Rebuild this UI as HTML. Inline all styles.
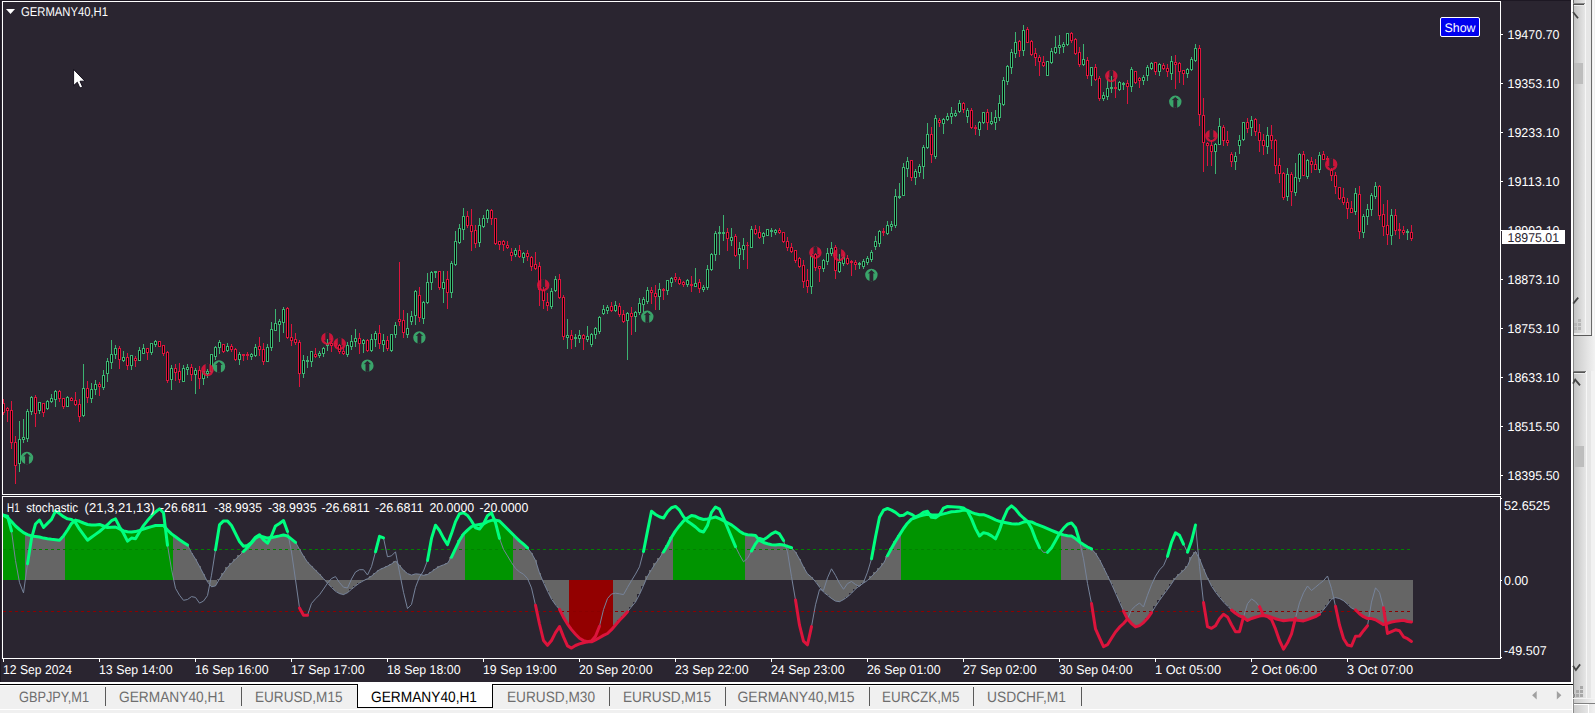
<!DOCTYPE html>
<html><head><meta charset="utf-8"><title>GERMANY40,H1</title>
<style>html,body{margin:0;padding:0;background:#f0f0f0;overflow:hidden}svg{display:block;font-family:"Liberation Sans",sans-serif}text{font-family:"Liberation Sans",sans-serif;white-space:pre}</style>
</head><body>
<svg width="1595" height="713" viewBox="0 0 1595 713" shape-rendering="crispEdges">
<defs><linearGradient id="sb" x1="0" x2="1" y1="0" y2="0"><stop offset="0" stop-color="#c4c4c4"/><stop offset="1" stop-color="#e6e6e6"/></linearGradient><linearGradient id="sb2" x1="0" x2="1" y1="0" y2="0"><stop offset="0" stop-color="#cacaca"/><stop offset="1" stop-color="#f2f2f2"/></linearGradient><clipPath id="cm"><rect x="3" y="2" width="1497" height="492"/></clipPath><clipPath id="cs"><rect x="3" y="497" width="1497" height="161"/></clipPath></defs>
<rect x="0" y="0" width="1595" height="713" fill="#f0f0f0" />
<rect x="0" y="0" width="1571" height="682" fill="#2a2530" />
<rect x="0" y="0" width="1571" height="1" fill="#1d1823" />
<rect x="0" y="0" width="1" height="682" fill="#1d1823" />
<g id="main" clip-path="url(#cm)">
<rect x="3" y="399" width="1" height="16" fill="#dc143c"/>
<rect x="2" y="403" width="3" height="10" fill="#dc143c"/>
<rect x="3" y="404" width="1" height="8" fill="#000"/>
<rect x="7" y="407" width="1" height="15" fill="#dc143c"/>
<rect x="6" y="408" width="3" height="3" fill="#dc143c"/>
<rect x="7" y="409" width="1" height="1" fill="#000"/>
<rect x="11" y="401" width="1" height="48" fill="#dc143c"/>
<rect x="10" y="410" width="3" height="33" fill="#dc143c"/>
<rect x="11" y="411" width="1" height="31" fill="#000"/>
<rect x="15" y="436" width="1" height="48" fill="#dc143c"/>
<rect x="14" y="442" width="3" height="24" fill="#dc143c"/>
<rect x="15" y="443" width="1" height="22" fill="#000"/>
<rect x="19" y="421" width="1" height="51" fill="#3cb371"/>
<rect x="18" y="439" width="3" height="25" fill="#3cb371"/>
<rect x="19" y="440" width="1" height="23" fill="#000"/>
<rect x="23" y="419" width="1" height="24" fill="#3cb371"/>
<rect x="22" y="437" width="3" height="3" fill="#3cb371"/>
<rect x="23" y="438" width="1" height="1" fill="#000"/>
<rect x="27" y="409" width="1" height="33" fill="#3cb371"/>
<rect x="26" y="411" width="3" height="28" fill="#3cb371"/>
<rect x="27" y="412" width="1" height="26" fill="#000"/>
<rect x="31" y="396" width="1" height="19" fill="#3cb371"/>
<rect x="30" y="397" width="3" height="15" fill="#3cb371"/>
<rect x="31" y="398" width="1" height="13" fill="#000"/>
<rect x="35" y="395" width="1" height="32" fill="#dc143c"/>
<rect x="34" y="397" width="3" height="17" fill="#dc143c"/>
<rect x="35" y="398" width="1" height="15" fill="#000"/>
<rect x="39" y="402" width="1" height="12" fill="#3cb371"/>
<rect x="38" y="402" width="3" height="9" fill="#3cb371"/>
<rect x="39" y="403" width="1" height="7" fill="#000"/>
<rect x="43" y="403" width="1" height="14" fill="#dc143c"/>
<rect x="42" y="403" width="3" height="10" fill="#dc143c"/>
<rect x="43" y="404" width="1" height="8" fill="#000"/>
<rect x="47" y="400" width="1" height="10" fill="#3cb371"/>
<rect x="46" y="401" width="3" height="8" fill="#3cb371"/>
<rect x="47" y="402" width="1" height="6" fill="#000"/>
<rect x="51" y="394" width="1" height="9" fill="#3cb371"/>
<rect x="50" y="398" width="3" height="4" fill="#3cb371"/>
<rect x="51" y="399" width="1" height="2" fill="#000"/>
<rect x="55" y="390" width="1" height="17" fill="#3cb371"/>
<rect x="54" y="391" width="3" height="9" fill="#3cb371"/>
<rect x="55" y="392" width="1" height="7" fill="#000"/>
<rect x="59" y="390" width="1" height="12" fill="#dc143c"/>
<rect x="58" y="391" width="3" height="8" fill="#dc143c"/>
<rect x="59" y="392" width="1" height="6" fill="#000"/>
<rect x="63" y="398" width="1" height="11" fill="#dc143c"/>
<rect x="62" y="398" width="3" height="9" fill="#dc143c"/>
<rect x="63" y="399" width="1" height="7" fill="#000"/>
<rect x="67" y="396" width="1" height="11" fill="#3cb371"/>
<rect x="66" y="397" width="3" height="10" fill="#3cb371"/>
<rect x="67" y="398" width="1" height="8" fill="#000"/>
<rect x="71" y="397" width="1" height="4" fill="#dc143c"/>
<rect x="70" y="398" width="3" height="3" fill="#dc143c"/>
<rect x="71" y="399" width="1" height="1" fill="#000"/>
<rect x="75" y="392" width="1" height="14" fill="#dc143c"/>
<rect x="74" y="400" width="3" height="5" fill="#dc143c"/>
<rect x="75" y="401" width="1" height="3" fill="#000"/>
<rect x="79" y="399" width="1" height="23" fill="#dc143c"/>
<rect x="78" y="404" width="3" height="13" fill="#dc143c"/>
<rect x="79" y="405" width="1" height="11" fill="#000"/>
<rect x="83" y="364" width="1" height="53" fill="#3cb371"/>
<rect x="82" y="388" width="3" height="28" fill="#3cb371"/>
<rect x="83" y="389" width="1" height="26" fill="#000"/>
<rect x="87" y="381" width="1" height="22" fill="#dc143c"/>
<rect x="86" y="388" width="3" height="10" fill="#dc143c"/>
<rect x="87" y="389" width="1" height="8" fill="#000"/>
<rect x="91" y="383" width="1" height="20" fill="#3cb371"/>
<rect x="90" y="389" width="3" height="10" fill="#3cb371"/>
<rect x="91" y="390" width="1" height="8" fill="#000"/>
<rect x="95" y="380" width="1" height="15" fill="#3cb371"/>
<rect x="94" y="384" width="3" height="6" fill="#3cb371"/>
<rect x="95" y="385" width="1" height="4" fill="#000"/>
<rect x="99" y="382" width="1" height="14" fill="#dc143c"/>
<rect x="98" y="384" width="3" height="3" fill="#dc143c"/>
<rect x="99" y="385" width="1" height="1" fill="#000"/>
<rect x="103" y="370" width="1" height="20" fill="#3cb371"/>
<rect x="102" y="375" width="3" height="13" fill="#3cb371"/>
<rect x="103" y="376" width="1" height="11" fill="#000"/>
<rect x="107" y="358" width="1" height="24" fill="#3cb371"/>
<rect x="106" y="361" width="3" height="13" fill="#3cb371"/>
<rect x="107" y="362" width="1" height="11" fill="#000"/>
<rect x="111" y="340" width="1" height="29" fill="#3cb371"/>
<rect x="110" y="354" width="3" height="9" fill="#3cb371"/>
<rect x="111" y="355" width="1" height="7" fill="#000"/>
<rect x="115" y="345" width="1" height="14" fill="#3cb371"/>
<rect x="114" y="348" width="3" height="7" fill="#3cb371"/>
<rect x="115" y="349" width="1" height="5" fill="#000"/>
<rect x="119" y="346" width="1" height="23" fill="#dc143c"/>
<rect x="118" y="348" width="3" height="12" fill="#dc143c"/>
<rect x="119" y="349" width="1" height="10" fill="#000"/>
<rect x="123" y="351" width="1" height="11" fill="#3cb371"/>
<rect x="122" y="357" width="3" height="4" fill="#3cb371"/>
<rect x="123" y="358" width="1" height="2" fill="#000"/>
<rect x="127" y="353" width="1" height="17" fill="#dc143c"/>
<rect x="126" y="357" width="3" height="9" fill="#dc143c"/>
<rect x="127" y="358" width="1" height="7" fill="#000"/>
<rect x="131" y="355" width="1" height="15" fill="#3cb371"/>
<rect x="130" y="355" width="3" height="11" fill="#3cb371"/>
<rect x="131" y="356" width="1" height="9" fill="#000"/>
<rect x="135" y="356" width="1" height="11" fill="#dc143c"/>
<rect x="134" y="358" width="3" height="3" fill="#dc143c"/>
<rect x="135" y="359" width="1" height="1" fill="#000"/>
<rect x="139" y="347" width="1" height="14" fill="#3cb371"/>
<rect x="138" y="350" width="3" height="11" fill="#3cb371"/>
<rect x="139" y="351" width="1" height="9" fill="#000"/>
<rect x="143" y="344" width="1" height="10" fill="#3cb371"/>
<rect x="142" y="348" width="3" height="6" fill="#3cb371"/>
<rect x="143" y="349" width="1" height="4" fill="#000"/>
<rect x="147" y="348" width="1" height="12" fill="#dc143c"/>
<rect x="146" y="348" width="3" height="5" fill="#dc143c"/>
<rect x="147" y="349" width="1" height="3" fill="#000"/>
<rect x="151" y="343" width="1" height="12" fill="#3cb371"/>
<rect x="150" y="343" width="3" height="10" fill="#3cb371"/>
<rect x="151" y="344" width="1" height="8" fill="#000"/>
<rect x="155" y="340" width="1" height="7" fill="#3cb371"/>
<rect x="154" y="341" width="3" height="4" fill="#3cb371"/>
<rect x="155" y="342" width="1" height="2" fill="#000"/>
<rect x="159" y="341" width="1" height="6" fill="#dc143c"/>
<rect x="158" y="341" width="3" height="6" fill="#dc143c"/>
<rect x="159" y="342" width="1" height="4" fill="#000"/>
<rect x="163" y="345" width="1" height="11" fill="#dc143c"/>
<rect x="162" y="345" width="3" height="9" fill="#dc143c"/>
<rect x="163" y="346" width="1" height="7" fill="#000"/>
<rect x="167" y="351" width="1" height="32" fill="#dc143c"/>
<rect x="166" y="352" width="3" height="29" fill="#dc143c"/>
<rect x="167" y="353" width="1" height="27" fill="#000"/>
<rect x="171" y="365" width="1" height="25" fill="#3cb371"/>
<rect x="170" y="368" width="3" height="12" fill="#3cb371"/>
<rect x="171" y="369" width="1" height="10" fill="#000"/>
<rect x="175" y="364" width="1" height="17" fill="#dc143c"/>
<rect x="174" y="368" width="3" height="5" fill="#dc143c"/>
<rect x="175" y="369" width="1" height="3" fill="#000"/>
<rect x="179" y="363" width="1" height="20" fill="#dc143c"/>
<rect x="178" y="371" width="3" height="9" fill="#dc143c"/>
<rect x="179" y="372" width="1" height="7" fill="#000"/>
<rect x="183" y="365" width="1" height="17" fill="#3cb371"/>
<rect x="182" y="368" width="3" height="14" fill="#3cb371"/>
<rect x="183" y="369" width="1" height="12" fill="#000"/>
<rect x="187" y="364" width="1" height="11" fill="#3cb371"/>
<rect x="186" y="367" width="3" height="3" fill="#3cb371"/>
<rect x="187" y="368" width="1" height="1" fill="#000"/>
<rect x="191" y="364" width="1" height="17" fill="#dc143c"/>
<rect x="190" y="367" width="3" height="8" fill="#dc143c"/>
<rect x="191" y="368" width="1" height="6" fill="#000"/>
<rect x="195" y="368" width="1" height="26" fill="#3cb371"/>
<rect x="194" y="370" width="3" height="5" fill="#3cb371"/>
<rect x="195" y="371" width="1" height="3" fill="#000"/>
<rect x="199" y="366" width="1" height="23" fill="#dc143c"/>
<rect x="198" y="370" width="3" height="9" fill="#dc143c"/>
<rect x="199" y="371" width="1" height="7" fill="#000"/>
<rect x="203" y="371" width="1" height="14" fill="#3cb371"/>
<rect x="202" y="371" width="3" height="8" fill="#3cb371"/>
<rect x="203" y="372" width="1" height="6" fill="#000"/>
<rect x="207" y="369" width="1" height="9" fill="#3cb371"/>
<rect x="206" y="371" width="3" height="3" fill="#3cb371"/>
<rect x="207" y="372" width="1" height="1" fill="#000"/>
<rect x="211" y="354" width="1" height="19" fill="#3cb371"/>
<rect x="210" y="354" width="3" height="18" fill="#3cb371"/>
<rect x="211" y="355" width="1" height="16" fill="#000"/>
<rect x="215" y="346" width="1" height="14" fill="#3cb371"/>
<rect x="214" y="347" width="3" height="10" fill="#3cb371"/>
<rect x="215" y="348" width="1" height="8" fill="#000"/>
<rect x="219" y="340" width="1" height="14" fill="#3cb371"/>
<rect x="218" y="342" width="3" height="6" fill="#3cb371"/>
<rect x="219" y="343" width="1" height="4" fill="#000"/>
<rect x="223" y="344" width="1" height="9" fill="#dc143c"/>
<rect x="222" y="344" width="3" height="8" fill="#dc143c"/>
<rect x="223" y="345" width="1" height="6" fill="#000"/>
<rect x="227" y="343" width="1" height="9" fill="#3cb371"/>
<rect x="226" y="346" width="3" height="5" fill="#3cb371"/>
<rect x="227" y="347" width="1" height="3" fill="#000"/>
<rect x="231" y="344" width="1" height="8" fill="#dc143c"/>
<rect x="230" y="346" width="3" height="4" fill="#dc143c"/>
<rect x="231" y="347" width="1" height="2" fill="#000"/>
<rect x="235" y="348" width="1" height="13" fill="#dc143c"/>
<rect x="234" y="349" width="3" height="11" fill="#dc143c"/>
<rect x="235" y="350" width="1" height="9" fill="#000"/>
<rect x="239" y="352" width="1" height="13" fill="#3cb371"/>
<rect x="238" y="354" width="3" height="6" fill="#3cb371"/>
<rect x="239" y="355" width="1" height="4" fill="#000"/>
<rect x="243" y="354" width="1" height="7" fill="#dc143c"/>
<rect x="242" y="354" width="3" height="2" fill="#dc143c"/>
<rect x="247" y="352" width="1" height="8" fill="#dc143c"/>
<rect x="246" y="354" width="3" height="2" fill="#dc143c"/>
<rect x="251" y="353" width="1" height="7" fill="#3cb371"/>
<rect x="250" y="354" width="3" height="3" fill="#3cb371"/>
<rect x="251" y="355" width="1" height="1" fill="#000"/>
<rect x="255" y="344" width="1" height="13" fill="#3cb371"/>
<rect x="254" y="347" width="3" height="9" fill="#3cb371"/>
<rect x="255" y="348" width="1" height="7" fill="#000"/>
<rect x="259" y="337" width="1" height="19" fill="#dc143c"/>
<rect x="258" y="346" width="3" height="4" fill="#dc143c"/>
<rect x="259" y="347" width="1" height="2" fill="#000"/>
<rect x="263" y="343" width="1" height="22" fill="#dc143c"/>
<rect x="262" y="349" width="3" height="13" fill="#dc143c"/>
<rect x="263" y="350" width="1" height="11" fill="#000"/>
<rect x="267" y="344" width="1" height="18" fill="#3cb371"/>
<rect x="266" y="347" width="3" height="15" fill="#3cb371"/>
<rect x="267" y="348" width="1" height="13" fill="#000"/>
<rect x="271" y="322" width="1" height="29" fill="#3cb371"/>
<rect x="270" y="329" width="3" height="19" fill="#3cb371"/>
<rect x="271" y="330" width="1" height="17" fill="#000"/>
<rect x="275" y="309" width="1" height="22" fill="#3cb371"/>
<rect x="274" y="323" width="3" height="8" fill="#3cb371"/>
<rect x="275" y="324" width="1" height="6" fill="#000"/>
<rect x="279" y="319" width="1" height="23" fill="#3cb371"/>
<rect x="278" y="321" width="3" height="4" fill="#3cb371"/>
<rect x="279" y="322" width="1" height="2" fill="#000"/>
<rect x="283" y="307" width="1" height="26" fill="#3cb371"/>
<rect x="282" y="309" width="3" height="14" fill="#3cb371"/>
<rect x="283" y="310" width="1" height="12" fill="#000"/>
<rect x="287" y="307" width="1" height="32" fill="#dc143c"/>
<rect x="286" y="308" width="3" height="30" fill="#dc143c"/>
<rect x="287" y="309" width="1" height="28" fill="#000"/>
<rect x="291" y="324" width="1" height="22" fill="#dc143c"/>
<rect x="290" y="337" width="3" height="4" fill="#dc143c"/>
<rect x="291" y="338" width="1" height="2" fill="#000"/>
<rect x="295" y="333" width="1" height="12" fill="#dc143c"/>
<rect x="294" y="339" width="3" height="4" fill="#dc143c"/>
<rect x="295" y="340" width="1" height="2" fill="#000"/>
<rect x="299" y="340" width="1" height="47" fill="#dc143c"/>
<rect x="298" y="342" width="3" height="32" fill="#dc143c"/>
<rect x="299" y="343" width="1" height="30" fill="#000"/>
<rect x="303" y="355" width="1" height="23" fill="#3cb371"/>
<rect x="302" y="360" width="3" height="14" fill="#3cb371"/>
<rect x="303" y="361" width="1" height="12" fill="#000"/>
<rect x="307" y="356" width="1" height="12" fill="#3cb371"/>
<rect x="306" y="360" width="3" height="2" fill="#3cb371"/>
<rect x="311" y="351" width="1" height="16" fill="#3cb371"/>
<rect x="310" y="351" width="3" height="11" fill="#3cb371"/>
<rect x="311" y="352" width="1" height="9" fill="#000"/>
<rect x="315" y="348" width="1" height="10" fill="#dc143c"/>
<rect x="314" y="354" width="3" height="3" fill="#dc143c"/>
<rect x="315" y="355" width="1" height="1" fill="#000"/>
<rect x="319" y="351" width="1" height="7" fill="#3cb371"/>
<rect x="318" y="353" width="3" height="3" fill="#3cb371"/>
<rect x="319" y="354" width="1" height="1" fill="#000"/>
<rect x="323" y="347" width="1" height="10" fill="#3cb371"/>
<rect x="322" y="348" width="3" height="6" fill="#3cb371"/>
<rect x="323" y="349" width="1" height="4" fill="#000"/>
<rect x="327" y="339" width="1" height="12" fill="#3cb371"/>
<rect x="326" y="343" width="3" height="3" fill="#3cb371"/>
<rect x="327" y="344" width="1" height="1" fill="#000"/>
<rect x="331" y="338" width="1" height="14" fill="#dc143c"/>
<rect x="330" y="343" width="3" height="3" fill="#dc143c"/>
<rect x="331" y="344" width="1" height="1" fill="#000"/>
<rect x="335" y="341" width="1" height="7" fill="#dc143c"/>
<rect x="334" y="343" width="3" height="3" fill="#dc143c"/>
<rect x="335" y="344" width="1" height="1" fill="#000"/>
<rect x="339" y="344" width="1" height="10" fill="#dc143c"/>
<rect x="338" y="345" width="3" height="7" fill="#dc143c"/>
<rect x="339" y="346" width="1" height="5" fill="#000"/>
<rect x="343" y="347" width="1" height="8" fill="#dc143c"/>
<rect x="342" y="351" width="3" height="3" fill="#dc143c"/>
<rect x="343" y="352" width="1" height="1" fill="#000"/>
<rect x="347" y="342" width="1" height="15" fill="#3cb371"/>
<rect x="346" y="345" width="3" height="10" fill="#3cb371"/>
<rect x="347" y="346" width="1" height="8" fill="#000"/>
<rect x="351" y="335" width="1" height="15" fill="#3cb371"/>
<rect x="350" y="341" width="3" height="6" fill="#3cb371"/>
<rect x="351" y="342" width="1" height="4" fill="#000"/>
<rect x="355" y="329" width="1" height="18" fill="#3cb371"/>
<rect x="354" y="338" width="3" height="4" fill="#3cb371"/>
<rect x="355" y="339" width="1" height="2" fill="#000"/>
<rect x="359" y="333" width="1" height="21" fill="#dc143c"/>
<rect x="358" y="338" width="3" height="6" fill="#dc143c"/>
<rect x="359" y="339" width="1" height="4" fill="#000"/>
<rect x="363" y="339" width="1" height="14" fill="#3cb371"/>
<rect x="362" y="340" width="3" height="4" fill="#3cb371"/>
<rect x="363" y="341" width="1" height="2" fill="#000"/>
<rect x="367" y="339" width="1" height="13" fill="#dc143c"/>
<rect x="366" y="340" width="3" height="11" fill="#dc143c"/>
<rect x="367" y="341" width="1" height="9" fill="#000"/>
<rect x="371" y="334" width="1" height="18" fill="#3cb371"/>
<rect x="370" y="339" width="3" height="12" fill="#3cb371"/>
<rect x="371" y="340" width="1" height="10" fill="#000"/>
<rect x="375" y="331" width="1" height="16" fill="#3cb371"/>
<rect x="374" y="333" width="3" height="7" fill="#3cb371"/>
<rect x="375" y="334" width="1" height="5" fill="#000"/>
<rect x="379" y="325" width="1" height="24" fill="#dc143c"/>
<rect x="378" y="333" width="3" height="11" fill="#dc143c"/>
<rect x="379" y="334" width="1" height="9" fill="#000"/>
<rect x="383" y="334" width="1" height="18" fill="#3cb371"/>
<rect x="382" y="340" width="3" height="5" fill="#3cb371"/>
<rect x="383" y="341" width="1" height="3" fill="#000"/>
<rect x="387" y="336" width="1" height="15" fill="#dc143c"/>
<rect x="386" y="340" width="3" height="9" fill="#dc143c"/>
<rect x="387" y="341" width="1" height="7" fill="#000"/>
<rect x="391" y="334" width="1" height="18" fill="#3cb371"/>
<rect x="390" y="334" width="3" height="17" fill="#3cb371"/>
<rect x="391" y="335" width="1" height="15" fill="#000"/>
<rect x="395" y="322" width="1" height="16" fill="#3cb371"/>
<rect x="394" y="325" width="3" height="10" fill="#3cb371"/>
<rect x="395" y="326" width="1" height="8" fill="#000"/>
<rect x="399" y="262" width="1" height="64" fill="#dc143c"/>
<rect x="398" y="319" width="3" height="3" fill="#dc143c"/>
<rect x="399" y="320" width="1" height="1" fill="#000"/>
<rect x="403" y="310" width="1" height="28" fill="#dc143c"/>
<rect x="402" y="320" width="3" height="13" fill="#dc143c"/>
<rect x="403" y="321" width="1" height="11" fill="#000"/>
<rect x="407" y="313" width="1" height="25" fill="#3cb371"/>
<rect x="406" y="328" width="3" height="7" fill="#3cb371"/>
<rect x="407" y="329" width="1" height="5" fill="#000"/>
<rect x="411" y="311" width="1" height="14" fill="#3cb371"/>
<rect x="410" y="316" width="3" height="6" fill="#3cb371"/>
<rect x="411" y="317" width="1" height="4" fill="#000"/>
<rect x="415" y="290" width="1" height="35" fill="#3cb371"/>
<rect x="414" y="291" width="3" height="25" fill="#3cb371"/>
<rect x="415" y="292" width="1" height="23" fill="#000"/>
<rect x="419" y="287" width="1" height="35" fill="#dc143c"/>
<rect x="418" y="295" width="3" height="23" fill="#dc143c"/>
<rect x="419" y="296" width="1" height="21" fill="#000"/>
<rect x="423" y="301" width="1" height="23" fill="#3cb371"/>
<rect x="422" y="302" width="3" height="17" fill="#3cb371"/>
<rect x="423" y="303" width="1" height="15" fill="#000"/>
<rect x="427" y="273" width="1" height="31" fill="#3cb371"/>
<rect x="426" y="282" width="3" height="21" fill="#3cb371"/>
<rect x="427" y="283" width="1" height="19" fill="#000"/>
<rect x="431" y="271" width="1" height="19" fill="#3cb371"/>
<rect x="430" y="272" width="3" height="11" fill="#3cb371"/>
<rect x="431" y="273" width="1" height="9" fill="#000"/>
<rect x="435" y="271" width="1" height="7" fill="#3cb371"/>
<rect x="434" y="271" width="3" height="2" fill="#3cb371"/>
<rect x="439" y="271" width="1" height="19" fill="#dc143c"/>
<rect x="438" y="271" width="3" height="17" fill="#dc143c"/>
<rect x="439" y="272" width="1" height="15" fill="#000"/>
<rect x="443" y="271" width="1" height="32" fill="#3cb371"/>
<rect x="442" y="282" width="3" height="7" fill="#3cb371"/>
<rect x="443" y="283" width="1" height="5" fill="#000"/>
<rect x="447" y="271" width="1" height="38" fill="#dc143c"/>
<rect x="446" y="279" width="3" height="14" fill="#dc143c"/>
<rect x="447" y="280" width="1" height="12" fill="#000"/>
<rect x="451" y="261" width="1" height="37" fill="#3cb371"/>
<rect x="450" y="263" width="3" height="30" fill="#3cb371"/>
<rect x="451" y="264" width="1" height="28" fill="#000"/>
<rect x="455" y="231" width="1" height="35" fill="#3cb371"/>
<rect x="454" y="241" width="3" height="24" fill="#3cb371"/>
<rect x="455" y="242" width="1" height="22" fill="#000"/>
<rect x="459" y="224" width="1" height="20" fill="#3cb371"/>
<rect x="458" y="228" width="3" height="15" fill="#3cb371"/>
<rect x="459" y="229" width="1" height="13" fill="#000"/>
<rect x="463" y="208" width="1" height="32" fill="#3cb371"/>
<rect x="462" y="216" width="3" height="14" fill="#3cb371"/>
<rect x="463" y="217" width="1" height="12" fill="#000"/>
<rect x="467" y="211" width="1" height="17" fill="#dc143c"/>
<rect x="466" y="216" width="3" height="10" fill="#dc143c"/>
<rect x="467" y="217" width="1" height="8" fill="#000"/>
<rect x="471" y="209" width="1" height="42" fill="#dc143c"/>
<rect x="470" y="225" width="3" height="7" fill="#dc143c"/>
<rect x="471" y="226" width="1" height="5" fill="#000"/>
<rect x="475" y="225" width="1" height="23" fill="#dc143c"/>
<rect x="474" y="230" width="3" height="14" fill="#dc143c"/>
<rect x="475" y="231" width="1" height="12" fill="#000"/>
<rect x="479" y="218" width="1" height="29" fill="#3cb371"/>
<rect x="478" y="225" width="3" height="18" fill="#3cb371"/>
<rect x="479" y="226" width="1" height="16" fill="#000"/>
<rect x="483" y="215" width="1" height="13" fill="#3cb371"/>
<rect x="482" y="218" width="3" height="9" fill="#3cb371"/>
<rect x="483" y="219" width="1" height="7" fill="#000"/>
<rect x="487" y="209" width="1" height="14" fill="#3cb371"/>
<rect x="486" y="210" width="3" height="9" fill="#3cb371"/>
<rect x="487" y="211" width="1" height="7" fill="#000"/>
<rect x="491" y="209" width="1" height="16" fill="#dc143c"/>
<rect x="490" y="210" width="3" height="9" fill="#dc143c"/>
<rect x="491" y="211" width="1" height="7" fill="#000"/>
<rect x="495" y="218" width="1" height="27" fill="#dc143c"/>
<rect x="494" y="218" width="3" height="26" fill="#dc143c"/>
<rect x="495" y="219" width="1" height="24" fill="#000"/>
<rect x="499" y="241" width="1" height="9" fill="#dc143c"/>
<rect x="498" y="241" width="3" height="4" fill="#dc143c"/>
<rect x="499" y="242" width="1" height="2" fill="#000"/>
<rect x="503" y="240" width="1" height="11" fill="#dc143c"/>
<rect x="502" y="241" width="3" height="4" fill="#dc143c"/>
<rect x="503" y="242" width="1" height="2" fill="#000"/>
<rect x="507" y="241" width="1" height="8" fill="#dc143c"/>
<rect x="506" y="245" width="3" height="3" fill="#dc143c"/>
<rect x="507" y="246" width="1" height="1" fill="#000"/>
<rect x="511" y="248" width="1" height="13" fill="#dc143c"/>
<rect x="510" y="252" width="3" height="4" fill="#dc143c"/>
<rect x="511" y="253" width="1" height="2" fill="#000"/>
<rect x="515" y="248" width="1" height="9" fill="#3cb371"/>
<rect x="514" y="250" width="3" height="5" fill="#3cb371"/>
<rect x="515" y="251" width="1" height="3" fill="#000"/>
<rect x="519" y="245" width="1" height="13" fill="#dc143c"/>
<rect x="518" y="250" width="3" height="7" fill="#dc143c"/>
<rect x="519" y="251" width="1" height="5" fill="#000"/>
<rect x="523" y="252" width="1" height="11" fill="#3cb371"/>
<rect x="522" y="253" width="3" height="5" fill="#3cb371"/>
<rect x="523" y="254" width="1" height="3" fill="#000"/>
<rect x="527" y="250" width="1" height="11" fill="#dc143c"/>
<rect x="526" y="253" width="3" height="4" fill="#dc143c"/>
<rect x="527" y="254" width="1" height="2" fill="#000"/>
<rect x="531" y="256" width="1" height="15" fill="#dc143c"/>
<rect x="530" y="257" width="3" height="10" fill="#dc143c"/>
<rect x="531" y="258" width="1" height="8" fill="#000"/>
<rect x="535" y="252" width="1" height="18" fill="#dc143c"/>
<rect x="534" y="264" width="3" height="5" fill="#dc143c"/>
<rect x="535" y="265" width="1" height="3" fill="#000"/>
<rect x="539" y="262" width="1" height="44" fill="#dc143c"/>
<rect x="538" y="266" width="3" height="24" fill="#dc143c"/>
<rect x="539" y="267" width="1" height="22" fill="#000"/>
<rect x="543" y="287" width="1" height="22" fill="#dc143c"/>
<rect x="542" y="290" width="3" height="11" fill="#dc143c"/>
<rect x="543" y="291" width="1" height="9" fill="#000"/>
<rect x="547" y="293" width="1" height="18" fill="#dc143c"/>
<rect x="546" y="302" width="3" height="4" fill="#dc143c"/>
<rect x="547" y="303" width="1" height="2" fill="#000"/>
<rect x="551" y="288" width="1" height="21" fill="#3cb371"/>
<rect x="550" y="291" width="3" height="16" fill="#3cb371"/>
<rect x="551" y="292" width="1" height="14" fill="#000"/>
<rect x="555" y="276" width="1" height="16" fill="#3cb371"/>
<rect x="554" y="279" width="3" height="12" fill="#3cb371"/>
<rect x="555" y="280" width="1" height="10" fill="#000"/>
<rect x="559" y="274" width="1" height="25" fill="#dc143c"/>
<rect x="558" y="279" width="3" height="19" fill="#dc143c"/>
<rect x="559" y="280" width="1" height="17" fill="#000"/>
<rect x="563" y="295" width="1" height="45" fill="#dc143c"/>
<rect x="562" y="297" width="3" height="40" fill="#dc143c"/>
<rect x="563" y="298" width="1" height="38" fill="#000"/>
<rect x="567" y="319" width="1" height="30" fill="#3cb371"/>
<rect x="566" y="335" width="3" height="3" fill="#3cb371"/>
<rect x="567" y="336" width="1" height="1" fill="#000"/>
<rect x="571" y="330" width="1" height="19" fill="#dc143c"/>
<rect x="570" y="335" width="3" height="5" fill="#dc143c"/>
<rect x="571" y="336" width="1" height="3" fill="#000"/>
<rect x="575" y="334" width="1" height="13" fill="#3cb371"/>
<rect x="574" y="337" width="3" height="2" fill="#3cb371"/>
<rect x="579" y="330" width="1" height="13" fill="#3cb371"/>
<rect x="578" y="335" width="3" height="4" fill="#3cb371"/>
<rect x="579" y="336" width="1" height="2" fill="#000"/>
<rect x="583" y="334" width="1" height="16" fill="#dc143c"/>
<rect x="582" y="335" width="3" height="4" fill="#dc143c"/>
<rect x="583" y="336" width="1" height="2" fill="#000"/>
<rect x="587" y="326" width="1" height="16" fill="#3cb371"/>
<rect x="586" y="336" width="3" height="4" fill="#3cb371"/>
<rect x="587" y="337" width="1" height="2" fill="#000"/>
<rect x="591" y="333" width="1" height="14" fill="#3cb371"/>
<rect x="590" y="334" width="3" height="11" fill="#3cb371"/>
<rect x="591" y="335" width="1" height="9" fill="#000"/>
<rect x="595" y="327" width="1" height="12" fill="#3cb371"/>
<rect x="594" y="328" width="3" height="7" fill="#3cb371"/>
<rect x="595" y="329" width="1" height="5" fill="#000"/>
<rect x="599" y="316" width="1" height="18" fill="#3cb371"/>
<rect x="598" y="317" width="3" height="15" fill="#3cb371"/>
<rect x="599" y="318" width="1" height="13" fill="#000"/>
<rect x="603" y="305" width="1" height="10" fill="#3cb371"/>
<rect x="602" y="309" width="3" height="5" fill="#3cb371"/>
<rect x="603" y="310" width="1" height="3" fill="#000"/>
<rect x="607" y="305" width="1" height="9" fill="#3cb371"/>
<rect x="606" y="307" width="3" height="4" fill="#3cb371"/>
<rect x="607" y="308" width="1" height="2" fill="#000"/>
<rect x="611" y="302" width="1" height="10" fill="#dc143c"/>
<rect x="610" y="306" width="3" height="5" fill="#dc143c"/>
<rect x="611" y="307" width="1" height="3" fill="#000"/>
<rect x="615" y="301" width="1" height="11" fill="#3cb371"/>
<rect x="614" y="305" width="3" height="6" fill="#3cb371"/>
<rect x="615" y="306" width="1" height="4" fill="#000"/>
<rect x="619" y="303" width="1" height="14" fill="#dc143c"/>
<rect x="618" y="306" width="3" height="9" fill="#dc143c"/>
<rect x="619" y="307" width="1" height="7" fill="#000"/>
<rect x="623" y="310" width="1" height="13" fill="#dc143c"/>
<rect x="622" y="314" width="3" height="8" fill="#dc143c"/>
<rect x="623" y="315" width="1" height="6" fill="#000"/>
<rect x="627" y="312" width="1" height="48" fill="#3cb371"/>
<rect x="626" y="313" width="3" height="8" fill="#3cb371"/>
<rect x="627" y="314" width="1" height="6" fill="#000"/>
<rect x="631" y="307" width="1" height="28" fill="#dc143c"/>
<rect x="630" y="313" width="3" height="4" fill="#dc143c"/>
<rect x="631" y="314" width="1" height="2" fill="#000"/>
<rect x="635" y="311" width="1" height="21" fill="#3cb371"/>
<rect x="634" y="312" width="3" height="5" fill="#3cb371"/>
<rect x="635" y="313" width="1" height="3" fill="#000"/>
<rect x="639" y="298" width="1" height="17" fill="#3cb371"/>
<rect x="638" y="303" width="3" height="10" fill="#3cb371"/>
<rect x="639" y="304" width="1" height="8" fill="#000"/>
<rect x="643" y="297" width="1" height="15" fill="#3cb371"/>
<rect x="642" y="299" width="3" height="6" fill="#3cb371"/>
<rect x="643" y="300" width="1" height="4" fill="#000"/>
<rect x="647" y="287" width="1" height="17" fill="#3cb371"/>
<rect x="646" y="290" width="3" height="12" fill="#3cb371"/>
<rect x="647" y="291" width="1" height="10" fill="#000"/>
<rect x="651" y="287" width="1" height="17" fill="#dc143c"/>
<rect x="650" y="290" width="3" height="3" fill="#dc143c"/>
<rect x="651" y="291" width="1" height="1" fill="#000"/>
<rect x="655" y="285" width="1" height="25" fill="#dc143c"/>
<rect x="654" y="293" width="3" height="4" fill="#dc143c"/>
<rect x="655" y="294" width="1" height="2" fill="#000"/>
<rect x="659" y="283" width="1" height="27" fill="#3cb371"/>
<rect x="658" y="289" width="3" height="8" fill="#3cb371"/>
<rect x="659" y="290" width="1" height="6" fill="#000"/>
<rect x="663" y="288" width="1" height="12" fill="#dc143c"/>
<rect x="662" y="289" width="3" height="2" fill="#dc143c"/>
<rect x="667" y="280" width="1" height="15" fill="#3cb371"/>
<rect x="666" y="280" width="3" height="11" fill="#3cb371"/>
<rect x="667" y="281" width="1" height="9" fill="#000"/>
<rect x="671" y="277" width="1" height="10" fill="#3cb371"/>
<rect x="670" y="278" width="3" height="5" fill="#3cb371"/>
<rect x="671" y="279" width="1" height="3" fill="#000"/>
<rect x="675" y="273" width="1" height="9" fill="#dc143c"/>
<rect x="674" y="277" width="3" height="3" fill="#dc143c"/>
<rect x="675" y="278" width="1" height="1" fill="#000"/>
<rect x="679" y="277" width="1" height="8" fill="#dc143c"/>
<rect x="678" y="279" width="3" height="5" fill="#dc143c"/>
<rect x="679" y="280" width="1" height="3" fill="#000"/>
<rect x="683" y="281" width="1" height="6" fill="#dc143c"/>
<rect x="682" y="282" width="3" height="3" fill="#dc143c"/>
<rect x="683" y="283" width="1" height="1" fill="#000"/>
<rect x="687" y="279" width="1" height="8" fill="#3cb371"/>
<rect x="686" y="280" width="3" height="5" fill="#3cb371"/>
<rect x="687" y="281" width="1" height="3" fill="#000"/>
<rect x="691" y="276" width="1" height="16" fill="#dc143c"/>
<rect x="690" y="284" width="3" height="2" fill="#dc143c"/>
<rect x="695" y="268" width="1" height="19" fill="#3cb371"/>
<rect x="694" y="283" width="3" height="4" fill="#3cb371"/>
<rect x="695" y="284" width="1" height="2" fill="#000"/>
<rect x="699" y="279" width="1" height="14" fill="#dc143c"/>
<rect x="698" y="282" width="3" height="7" fill="#dc143c"/>
<rect x="699" y="283" width="1" height="5" fill="#000"/>
<rect x="703" y="285" width="1" height="7" fill="#3cb371"/>
<rect x="702" y="287" width="3" height="3" fill="#3cb371"/>
<rect x="703" y="288" width="1" height="1" fill="#000"/>
<rect x="707" y="265" width="1" height="25" fill="#3cb371"/>
<rect x="706" y="269" width="3" height="19" fill="#3cb371"/>
<rect x="707" y="270" width="1" height="17" fill="#000"/>
<rect x="711" y="253" width="1" height="18" fill="#3cb371"/>
<rect x="710" y="254" width="3" height="16" fill="#3cb371"/>
<rect x="711" y="255" width="1" height="14" fill="#000"/>
<rect x="715" y="231" width="1" height="30" fill="#3cb371"/>
<rect x="714" y="233" width="3" height="22" fill="#3cb371"/>
<rect x="715" y="234" width="1" height="20" fill="#000"/>
<rect x="719" y="226" width="1" height="29" fill="#3cb371"/>
<rect x="718" y="232" width="3" height="2" fill="#3cb371"/>
<rect x="723" y="215" width="1" height="26" fill="#3cb371"/>
<rect x="722" y="232" width="3" height="2" fill="#3cb371"/>
<rect x="727" y="228" width="1" height="23" fill="#dc143c"/>
<rect x="726" y="232" width="3" height="7" fill="#dc143c"/>
<rect x="727" y="233" width="1" height="5" fill="#000"/>
<rect x="731" y="228" width="1" height="18" fill="#3cb371"/>
<rect x="730" y="237" width="3" height="4" fill="#3cb371"/>
<rect x="731" y="238" width="1" height="2" fill="#000"/>
<rect x="735" y="234" width="1" height="23" fill="#dc143c"/>
<rect x="734" y="236" width="3" height="20" fill="#dc143c"/>
<rect x="735" y="237" width="1" height="18" fill="#000"/>
<rect x="739" y="242" width="1" height="27" fill="#3cb371"/>
<rect x="738" y="248" width="3" height="7" fill="#3cb371"/>
<rect x="739" y="249" width="1" height="5" fill="#000"/>
<rect x="743" y="238" width="1" height="22" fill="#3cb371"/>
<rect x="742" y="245" width="3" height="5" fill="#3cb371"/>
<rect x="743" y="246" width="1" height="3" fill="#000"/>
<rect x="747" y="242" width="1" height="27" fill="#dc143c"/>
<rect x="746" y="245" width="3" height="1" fill="#dc143c"/>
<rect x="751" y="226" width="1" height="22" fill="#3cb371"/>
<rect x="750" y="229" width="3" height="19" fill="#3cb371"/>
<rect x="751" y="230" width="1" height="17" fill="#000"/>
<rect x="755" y="225" width="1" height="10" fill="#dc143c"/>
<rect x="754" y="229" width="3" height="5" fill="#dc143c"/>
<rect x="755" y="230" width="1" height="3" fill="#000"/>
<rect x="759" y="226" width="1" height="13" fill="#dc143c"/>
<rect x="758" y="232" width="3" height="6" fill="#dc143c"/>
<rect x="759" y="233" width="1" height="4" fill="#000"/>
<rect x="763" y="232" width="1" height="12" fill="#3cb371"/>
<rect x="762" y="233" width="3" height="4" fill="#3cb371"/>
<rect x="763" y="234" width="1" height="2" fill="#000"/>
<rect x="767" y="229" width="1" height="7" fill="#3cb371"/>
<rect x="766" y="229" width="3" height="7" fill="#3cb371"/>
<rect x="767" y="230" width="1" height="5" fill="#000"/>
<rect x="771" y="228" width="1" height="9" fill="#3cb371"/>
<rect x="770" y="230" width="3" height="2" fill="#3cb371"/>
<rect x="775" y="229" width="1" height="6" fill="#3cb371"/>
<rect x="774" y="230" width="3" height="3" fill="#3cb371"/>
<rect x="775" y="231" width="1" height="1" fill="#000"/>
<rect x="779" y="228" width="1" height="6" fill="#dc143c"/>
<rect x="778" y="230" width="3" height="3" fill="#dc143c"/>
<rect x="779" y="231" width="1" height="1" fill="#000"/>
<rect x="783" y="232" width="1" height="11" fill="#dc143c"/>
<rect x="782" y="232" width="3" height="10" fill="#dc143c"/>
<rect x="783" y="233" width="1" height="8" fill="#000"/>
<rect x="787" y="237" width="1" height="14" fill="#dc143c"/>
<rect x="786" y="241" width="3" height="7" fill="#dc143c"/>
<rect x="787" y="242" width="1" height="5" fill="#000"/>
<rect x="791" y="243" width="1" height="10" fill="#dc143c"/>
<rect x="790" y="247" width="3" height="5" fill="#dc143c"/>
<rect x="791" y="248" width="1" height="3" fill="#000"/>
<rect x="795" y="250" width="1" height="13" fill="#dc143c"/>
<rect x="794" y="250" width="3" height="11" fill="#dc143c"/>
<rect x="795" y="251" width="1" height="9" fill="#000"/>
<rect x="799" y="257" width="1" height="11" fill="#dc143c"/>
<rect x="798" y="258" width="3" height="9" fill="#dc143c"/>
<rect x="799" y="259" width="1" height="7" fill="#000"/>
<rect x="803" y="260" width="1" height="28" fill="#dc143c"/>
<rect x="802" y="265" width="3" height="17" fill="#dc143c"/>
<rect x="803" y="266" width="1" height="15" fill="#000"/>
<rect x="807" y="269" width="1" height="24" fill="#dc143c"/>
<rect x="806" y="280" width="3" height="7" fill="#dc143c"/>
<rect x="807" y="281" width="1" height="5" fill="#000"/>
<rect x="811" y="254" width="1" height="40" fill="#3cb371"/>
<rect x="810" y="256" width="3" height="31" fill="#3cb371"/>
<rect x="811" y="257" width="1" height="29" fill="#000"/>
<rect x="815" y="253" width="1" height="18" fill="#dc143c"/>
<rect x="814" y="254" width="3" height="14" fill="#dc143c"/>
<rect x="815" y="255" width="1" height="12" fill="#000"/>
<rect x="819" y="266" width="1" height="16" fill="#dc143c"/>
<rect x="818" y="266" width="3" height="3" fill="#dc143c"/>
<rect x="819" y="267" width="1" height="1" fill="#000"/>
<rect x="823" y="259" width="1" height="13" fill="#3cb371"/>
<rect x="822" y="260" width="3" height="9" fill="#3cb371"/>
<rect x="823" y="261" width="1" height="7" fill="#000"/>
<rect x="827" y="248" width="1" height="17" fill="#3cb371"/>
<rect x="826" y="253" width="3" height="9" fill="#3cb371"/>
<rect x="827" y="254" width="1" height="7" fill="#000"/>
<rect x="831" y="242" width="1" height="14" fill="#3cb371"/>
<rect x="830" y="248" width="3" height="6" fill="#3cb371"/>
<rect x="831" y="249" width="1" height="4" fill="#000"/>
<rect x="835" y="245" width="1" height="34" fill="#dc143c"/>
<rect x="834" y="247" width="3" height="24" fill="#dc143c"/>
<rect x="835" y="248" width="1" height="22" fill="#000"/>
<rect x="839" y="254" width="1" height="19" fill="#3cb371"/>
<rect x="838" y="262" width="3" height="10" fill="#3cb371"/>
<rect x="839" y="263" width="1" height="8" fill="#000"/>
<rect x="843" y="254" width="1" height="12" fill="#3cb371"/>
<rect x="842" y="257" width="3" height="7" fill="#3cb371"/>
<rect x="843" y="258" width="1" height="5" fill="#000"/>
<rect x="847" y="255" width="1" height="10" fill="#dc143c"/>
<rect x="846" y="258" width="3" height="6" fill="#dc143c"/>
<rect x="847" y="259" width="1" height="4" fill="#000"/>
<rect x="851" y="260" width="1" height="16" fill="#dc143c"/>
<rect x="850" y="261" width="3" height="2" fill="#dc143c"/>
<rect x="855" y="260" width="1" height="10" fill="#dc143c"/>
<rect x="854" y="262" width="3" height="3" fill="#dc143c"/>
<rect x="855" y="263" width="1" height="1" fill="#000"/>
<rect x="859" y="262" width="1" height="7" fill="#3cb371"/>
<rect x="858" y="263" width="3" height="2" fill="#3cb371"/>
<rect x="863" y="259" width="1" height="10" fill="#3cb371"/>
<rect x="862" y="261" width="3" height="6" fill="#3cb371"/>
<rect x="863" y="262" width="1" height="4" fill="#000"/>
<rect x="867" y="256" width="1" height="9" fill="#3cb371"/>
<rect x="866" y="258" width="3" height="5" fill="#3cb371"/>
<rect x="867" y="259" width="1" height="3" fill="#000"/>
<rect x="871" y="250" width="1" height="12" fill="#3cb371"/>
<rect x="870" y="252" width="3" height="8" fill="#3cb371"/>
<rect x="871" y="253" width="1" height="6" fill="#000"/>
<rect x="875" y="236" width="1" height="14" fill="#3cb371"/>
<rect x="874" y="241" width="3" height="6" fill="#3cb371"/>
<rect x="875" y="242" width="1" height="4" fill="#000"/>
<rect x="879" y="230" width="1" height="17" fill="#3cb371"/>
<rect x="878" y="231" width="3" height="13" fill="#3cb371"/>
<rect x="879" y="232" width="1" height="11" fill="#000"/>
<rect x="883" y="228" width="1" height="8" fill="#dc143c"/>
<rect x="882" y="231" width="3" height="2" fill="#dc143c"/>
<rect x="887" y="221" width="1" height="14" fill="#3cb371"/>
<rect x="886" y="225" width="3" height="9" fill="#3cb371"/>
<rect x="887" y="226" width="1" height="7" fill="#000"/>
<rect x="891" y="221" width="1" height="10" fill="#3cb371"/>
<rect x="890" y="224" width="3" height="3" fill="#3cb371"/>
<rect x="891" y="225" width="1" height="1" fill="#000"/>
<rect x="895" y="189" width="1" height="39" fill="#3cb371"/>
<rect x="894" y="196" width="3" height="30" fill="#3cb371"/>
<rect x="895" y="197" width="1" height="28" fill="#000"/>
<rect x="899" y="183" width="1" height="16" fill="#3cb371"/>
<rect x="898" y="196" width="3" height="2" fill="#3cb371"/>
<rect x="903" y="163" width="1" height="33" fill="#3cb371"/>
<rect x="902" y="167" width="3" height="29" fill="#3cb371"/>
<rect x="903" y="168" width="1" height="27" fill="#000"/>
<rect x="907" y="157" width="1" height="20" fill="#3cb371"/>
<rect x="906" y="161" width="3" height="8" fill="#3cb371"/>
<rect x="907" y="162" width="1" height="6" fill="#000"/>
<rect x="911" y="160" width="1" height="21" fill="#dc143c"/>
<rect x="910" y="160" width="3" height="18" fill="#dc143c"/>
<rect x="911" y="161" width="1" height="16" fill="#000"/>
<rect x="915" y="169" width="1" height="16" fill="#3cb371"/>
<rect x="914" y="171" width="3" height="7" fill="#3cb371"/>
<rect x="915" y="172" width="1" height="5" fill="#000"/>
<rect x="919" y="164" width="1" height="13" fill="#3cb371"/>
<rect x="918" y="166" width="3" height="7" fill="#3cb371"/>
<rect x="919" y="167" width="1" height="5" fill="#000"/>
<rect x="923" y="145" width="1" height="34" fill="#3cb371"/>
<rect x="922" y="147" width="3" height="20" fill="#3cb371"/>
<rect x="923" y="148" width="1" height="18" fill="#000"/>
<rect x="927" y="123" width="1" height="26" fill="#3cb371"/>
<rect x="926" y="134" width="3" height="14" fill="#3cb371"/>
<rect x="927" y="135" width="1" height="12" fill="#000"/>
<rect x="931" y="127" width="1" height="36" fill="#dc143c"/>
<rect x="930" y="134" width="3" height="21" fill="#dc143c"/>
<rect x="931" y="135" width="1" height="19" fill="#000"/>
<rect x="935" y="115" width="1" height="44" fill="#3cb371"/>
<rect x="934" y="118" width="3" height="39" fill="#3cb371"/>
<rect x="935" y="119" width="1" height="37" fill="#000"/>
<rect x="939" y="118" width="1" height="9" fill="#dc143c"/>
<rect x="938" y="120" width="3" height="3" fill="#dc143c"/>
<rect x="939" y="121" width="1" height="1" fill="#000"/>
<rect x="943" y="118" width="1" height="16" fill="#3cb371"/>
<rect x="942" y="119" width="3" height="5" fill="#3cb371"/>
<rect x="943" y="120" width="1" height="3" fill="#000"/>
<rect x="947" y="113" width="1" height="8" fill="#3cb371"/>
<rect x="946" y="116" width="3" height="4" fill="#3cb371"/>
<rect x="947" y="117" width="1" height="2" fill="#000"/>
<rect x="951" y="107" width="1" height="17" fill="#3cb371"/>
<rect x="950" y="113" width="3" height="4" fill="#3cb371"/>
<rect x="951" y="114" width="1" height="2" fill="#000"/>
<rect x="955" y="110" width="1" height="7" fill="#3cb371"/>
<rect x="954" y="113" width="3" height="3" fill="#3cb371"/>
<rect x="955" y="114" width="1" height="1" fill="#000"/>
<rect x="959" y="100" width="1" height="13" fill="#3cb371"/>
<rect x="958" y="103" width="3" height="9" fill="#3cb371"/>
<rect x="959" y="104" width="1" height="7" fill="#000"/>
<rect x="963" y="102" width="1" height="11" fill="#dc143c"/>
<rect x="962" y="103" width="3" height="7" fill="#dc143c"/>
<rect x="963" y="104" width="1" height="5" fill="#000"/>
<rect x="967" y="108" width="1" height="15" fill="#3cb371"/>
<rect x="966" y="110" width="3" height="7" fill="#3cb371"/>
<rect x="967" y="111" width="1" height="5" fill="#000"/>
<rect x="971" y="108" width="1" height="21" fill="#dc143c"/>
<rect x="970" y="110" width="3" height="18" fill="#dc143c"/>
<rect x="971" y="111" width="1" height="16" fill="#000"/>
<rect x="975" y="125" width="1" height="10" fill="#dc143c"/>
<rect x="974" y="127" width="3" height="2" fill="#dc143c"/>
<rect x="979" y="121" width="1" height="15" fill="#3cb371"/>
<rect x="978" y="122" width="3" height="8" fill="#3cb371"/>
<rect x="979" y="123" width="1" height="6" fill="#000"/>
<rect x="983" y="112" width="1" height="12" fill="#3cb371"/>
<rect x="982" y="112" width="3" height="11" fill="#3cb371"/>
<rect x="983" y="113" width="1" height="9" fill="#000"/>
<rect x="987" y="109" width="1" height="21" fill="#dc143c"/>
<rect x="986" y="112" width="3" height="11" fill="#dc143c"/>
<rect x="987" y="113" width="1" height="9" fill="#000"/>
<rect x="991" y="112" width="1" height="13" fill="#3cb371"/>
<rect x="990" y="121" width="3" height="3" fill="#3cb371"/>
<rect x="991" y="122" width="1" height="1" fill="#000"/>
<rect x="995" y="110" width="1" height="20" fill="#3cb371"/>
<rect x="994" y="117" width="3" height="6" fill="#3cb371"/>
<rect x="995" y="118" width="1" height="4" fill="#000"/>
<rect x="999" y="95" width="1" height="26" fill="#3cb371"/>
<rect x="998" y="103" width="3" height="15" fill="#3cb371"/>
<rect x="999" y="104" width="1" height="13" fill="#000"/>
<rect x="1003" y="77" width="1" height="29" fill="#3cb371"/>
<rect x="1002" y="80" width="3" height="25" fill="#3cb371"/>
<rect x="1003" y="81" width="1" height="23" fill="#000"/>
<rect x="1007" y="65" width="1" height="20" fill="#3cb371"/>
<rect x="1006" y="66" width="3" height="16" fill="#3cb371"/>
<rect x="1007" y="67" width="1" height="14" fill="#000"/>
<rect x="1011" y="49" width="1" height="25" fill="#3cb371"/>
<rect x="1010" y="52" width="3" height="16" fill="#3cb371"/>
<rect x="1011" y="53" width="1" height="14" fill="#000"/>
<rect x="1015" y="32" width="1" height="26" fill="#3cb371"/>
<rect x="1014" y="42" width="3" height="12" fill="#3cb371"/>
<rect x="1015" y="43" width="1" height="10" fill="#000"/>
<rect x="1019" y="40" width="1" height="17" fill="#dc143c"/>
<rect x="1018" y="41" width="3" height="10" fill="#dc143c"/>
<rect x="1019" y="42" width="1" height="8" fill="#000"/>
<rect x="1023" y="25" width="1" height="31" fill="#3cb371"/>
<rect x="1022" y="30" width="3" height="21" fill="#3cb371"/>
<rect x="1023" y="31" width="1" height="19" fill="#000"/>
<rect x="1027" y="27" width="1" height="16" fill="#dc143c"/>
<rect x="1026" y="29" width="3" height="14" fill="#dc143c"/>
<rect x="1027" y="30" width="1" height="12" fill="#000"/>
<rect x="1031" y="40" width="1" height="16" fill="#dc143c"/>
<rect x="1030" y="41" width="3" height="14" fill="#dc143c"/>
<rect x="1031" y="42" width="1" height="12" fill="#000"/>
<rect x="1035" y="48" width="1" height="18" fill="#dc143c"/>
<rect x="1034" y="53" width="3" height="5" fill="#dc143c"/>
<rect x="1035" y="54" width="1" height="3" fill="#000"/>
<rect x="1039" y="55" width="1" height="21" fill="#dc143c"/>
<rect x="1038" y="57" width="3" height="5" fill="#dc143c"/>
<rect x="1039" y="58" width="1" height="3" fill="#000"/>
<rect x="1043" y="56" width="1" height="11" fill="#dc143c"/>
<rect x="1042" y="62" width="3" height="4" fill="#dc143c"/>
<rect x="1043" y="63" width="1" height="2" fill="#000"/>
<rect x="1047" y="61" width="1" height="15" fill="#3cb371"/>
<rect x="1046" y="61" width="3" height="15" fill="#3cb371"/>
<rect x="1047" y="62" width="1" height="13" fill="#000"/>
<rect x="1051" y="48" width="1" height="16" fill="#3cb371"/>
<rect x="1050" y="51" width="3" height="12" fill="#3cb371"/>
<rect x="1051" y="52" width="1" height="10" fill="#000"/>
<rect x="1055" y="36" width="1" height="18" fill="#3cb371"/>
<rect x="1054" y="47" width="3" height="6" fill="#3cb371"/>
<rect x="1055" y="48" width="1" height="4" fill="#000"/>
<rect x="1059" y="35" width="1" height="19" fill="#3cb371"/>
<rect x="1058" y="45" width="3" height="3" fill="#3cb371"/>
<rect x="1059" y="46" width="1" height="1" fill="#000"/>
<rect x="1063" y="42" width="1" height="11" fill="#3cb371"/>
<rect x="1062" y="44" width="3" height="3" fill="#3cb371"/>
<rect x="1063" y="45" width="1" height="1" fill="#000"/>
<rect x="1067" y="33" width="1" height="13" fill="#3cb371"/>
<rect x="1066" y="33" width="3" height="12" fill="#3cb371"/>
<rect x="1067" y="34" width="1" height="10" fill="#000"/>
<rect x="1071" y="32" width="1" height="11" fill="#dc143c"/>
<rect x="1070" y="33" width="3" height="8" fill="#dc143c"/>
<rect x="1071" y="34" width="1" height="6" fill="#000"/>
<rect x="1075" y="38" width="1" height="17" fill="#dc143c"/>
<rect x="1074" y="39" width="3" height="15" fill="#dc143c"/>
<rect x="1075" y="40" width="1" height="13" fill="#000"/>
<rect x="1079" y="47" width="1" height="20" fill="#dc143c"/>
<rect x="1078" y="52" width="3" height="13" fill="#dc143c"/>
<rect x="1079" y="53" width="1" height="11" fill="#000"/>
<rect x="1083" y="44" width="1" height="22" fill="#3cb371"/>
<rect x="1082" y="59" width="3" height="6" fill="#3cb371"/>
<rect x="1083" y="60" width="1" height="4" fill="#000"/>
<rect x="1087" y="57" width="1" height="22" fill="#dc143c"/>
<rect x="1086" y="60" width="3" height="16" fill="#dc143c"/>
<rect x="1087" y="61" width="1" height="14" fill="#000"/>
<rect x="1091" y="67" width="1" height="19" fill="#3cb371"/>
<rect x="1090" y="67" width="3" height="9" fill="#3cb371"/>
<rect x="1091" y="68" width="1" height="7" fill="#000"/>
<rect x="1095" y="64" width="1" height="17" fill="#dc143c"/>
<rect x="1094" y="67" width="3" height="13" fill="#dc143c"/>
<rect x="1095" y="68" width="1" height="11" fill="#000"/>
<rect x="1099" y="76" width="1" height="25" fill="#dc143c"/>
<rect x="1098" y="78" width="3" height="21" fill="#dc143c"/>
<rect x="1099" y="79" width="1" height="19" fill="#000"/>
<rect x="1103" y="92" width="1" height="9" fill="#3cb371"/>
<rect x="1102" y="95" width="3" height="4" fill="#3cb371"/>
<rect x="1103" y="96" width="1" height="2" fill="#000"/>
<rect x="1107" y="75" width="1" height="25" fill="#3cb371"/>
<rect x="1106" y="88" width="3" height="9" fill="#3cb371"/>
<rect x="1107" y="89" width="1" height="7" fill="#000"/>
<rect x="1111" y="76" width="1" height="17" fill="#3cb371"/>
<rect x="1110" y="87" width="3" height="2" fill="#3cb371"/>
<rect x="1115" y="78" width="1" height="20" fill="#dc143c"/>
<rect x="1114" y="87" width="3" height="2" fill="#dc143c"/>
<rect x="1119" y="81" width="1" height="10" fill="#3cb371"/>
<rect x="1118" y="82" width="3" height="8" fill="#3cb371"/>
<rect x="1119" y="83" width="1" height="6" fill="#000"/>
<rect x="1123" y="82" width="1" height="8" fill="#3cb371"/>
<rect x="1122" y="83" width="3" height="2" fill="#3cb371"/>
<rect x="1127" y="80" width="1" height="24" fill="#dc143c"/>
<rect x="1126" y="83" width="3" height="4" fill="#dc143c"/>
<rect x="1127" y="84" width="1" height="2" fill="#000"/>
<rect x="1131" y="67" width="1" height="25" fill="#3cb371"/>
<rect x="1130" y="69" width="3" height="18" fill="#3cb371"/>
<rect x="1131" y="70" width="1" height="16" fill="#000"/>
<rect x="1135" y="71" width="1" height="13" fill="#dc143c"/>
<rect x="1134" y="71" width="3" height="12" fill="#dc143c"/>
<rect x="1135" y="72" width="1" height="10" fill="#000"/>
<rect x="1139" y="77" width="1" height="11" fill="#dc143c"/>
<rect x="1138" y="78" width="3" height="3" fill="#dc143c"/>
<rect x="1139" y="79" width="1" height="1" fill="#000"/>
<rect x="1143" y="75" width="1" height="10" fill="#3cb371"/>
<rect x="1142" y="77" width="3" height="4" fill="#3cb371"/>
<rect x="1143" y="78" width="1" height="2" fill="#000"/>
<rect x="1147" y="65" width="1" height="16" fill="#3cb371"/>
<rect x="1146" y="67" width="3" height="9" fill="#3cb371"/>
<rect x="1147" y="68" width="1" height="7" fill="#000"/>
<rect x="1151" y="62" width="1" height="8" fill="#3cb371"/>
<rect x="1150" y="63" width="3" height="6" fill="#3cb371"/>
<rect x="1151" y="64" width="1" height="4" fill="#000"/>
<rect x="1155" y="62" width="1" height="13" fill="#dc143c"/>
<rect x="1154" y="62" width="3" height="10" fill="#dc143c"/>
<rect x="1155" y="63" width="1" height="8" fill="#000"/>
<rect x="1159" y="63" width="1" height="13" fill="#3cb371"/>
<rect x="1158" y="64" width="3" height="8" fill="#3cb371"/>
<rect x="1159" y="65" width="1" height="6" fill="#000"/>
<rect x="1163" y="63" width="1" height="7" fill="#dc143c"/>
<rect x="1162" y="65" width="3" height="4" fill="#dc143c"/>
<rect x="1163" y="66" width="1" height="2" fill="#000"/>
<rect x="1167" y="64" width="1" height="13" fill="#dc143c"/>
<rect x="1166" y="68" width="3" height="4" fill="#dc143c"/>
<rect x="1167" y="69" width="1" height="2" fill="#000"/>
<rect x="1171" y="56" width="1" height="24" fill="#3cb371"/>
<rect x="1170" y="61" width="3" height="13" fill="#3cb371"/>
<rect x="1171" y="62" width="1" height="11" fill="#000"/>
<rect x="1175" y="55" width="1" height="34" fill="#dc143c"/>
<rect x="1174" y="62" width="3" height="3" fill="#dc143c"/>
<rect x="1175" y="63" width="1" height="1" fill="#000"/>
<rect x="1179" y="62" width="1" height="21" fill="#dc143c"/>
<rect x="1178" y="63" width="3" height="9" fill="#dc143c"/>
<rect x="1179" y="64" width="1" height="7" fill="#000"/>
<rect x="1183" y="70" width="1" height="15" fill="#dc143c"/>
<rect x="1182" y="70" width="3" height="4" fill="#dc143c"/>
<rect x="1183" y="71" width="1" height="2" fill="#000"/>
<rect x="1187" y="68" width="1" height="10" fill="#3cb371"/>
<rect x="1186" y="69" width="3" height="5" fill="#3cb371"/>
<rect x="1187" y="70" width="1" height="3" fill="#000"/>
<rect x="1191" y="57" width="1" height="14" fill="#3cb371"/>
<rect x="1190" y="59" width="3" height="11" fill="#3cb371"/>
<rect x="1191" y="60" width="1" height="9" fill="#000"/>
<rect x="1195" y="44" width="1" height="18" fill="#3cb371"/>
<rect x="1194" y="48" width="3" height="13" fill="#3cb371"/>
<rect x="1195" y="49" width="1" height="11" fill="#000"/>
<rect x="1199" y="45" width="1" height="81" fill="#dc143c"/>
<rect x="1198" y="48" width="3" height="67" fill="#dc143c"/>
<rect x="1199" y="49" width="1" height="65" fill="#000"/>
<rect x="1203" y="98" width="1" height="74" fill="#dc143c"/>
<rect x="1202" y="115" width="3" height="28" fill="#dc143c"/>
<rect x="1203" y="116" width="1" height="26" fill="#000"/>
<rect x="1207" y="142" width="1" height="24" fill="#dc143c"/>
<rect x="1206" y="143" width="3" height="3" fill="#dc143c"/>
<rect x="1207" y="144" width="1" height="1" fill="#000"/>
<rect x="1211" y="140" width="1" height="26" fill="#dc143c"/>
<rect x="1210" y="145" width="3" height="7" fill="#dc143c"/>
<rect x="1211" y="146" width="1" height="5" fill="#000"/>
<rect x="1215" y="143" width="1" height="31" fill="#3cb371"/>
<rect x="1214" y="144" width="3" height="8" fill="#3cb371"/>
<rect x="1215" y="145" width="1" height="6" fill="#000"/>
<rect x="1219" y="118" width="1" height="27" fill="#3cb371"/>
<rect x="1218" y="126" width="3" height="19" fill="#3cb371"/>
<rect x="1219" y="127" width="1" height="17" fill="#000"/>
<rect x="1223" y="125" width="1" height="21" fill="#dc143c"/>
<rect x="1222" y="127" width="3" height="14" fill="#dc143c"/>
<rect x="1223" y="128" width="1" height="12" fill="#000"/>
<rect x="1227" y="131" width="1" height="15" fill="#dc143c"/>
<rect x="1226" y="140" width="3" height="3" fill="#dc143c"/>
<rect x="1227" y="141" width="1" height="1" fill="#000"/>
<rect x="1231" y="152" width="1" height="15" fill="#dc143c"/>
<rect x="1230" y="154" width="3" height="8" fill="#dc143c"/>
<rect x="1231" y="155" width="1" height="6" fill="#000"/>
<rect x="1235" y="152" width="1" height="18" fill="#3cb371"/>
<rect x="1234" y="156" width="3" height="6" fill="#3cb371"/>
<rect x="1235" y="157" width="1" height="4" fill="#000"/>
<rect x="1239" y="135" width="1" height="19" fill="#3cb371"/>
<rect x="1238" y="140" width="3" height="6" fill="#3cb371"/>
<rect x="1239" y="141" width="1" height="4" fill="#000"/>
<rect x="1243" y="122" width="1" height="19" fill="#3cb371"/>
<rect x="1242" y="122" width="3" height="18" fill="#3cb371"/>
<rect x="1243" y="123" width="1" height="16" fill="#000"/>
<rect x="1247" y="118" width="1" height="15" fill="#dc143c"/>
<rect x="1246" y="122" width="3" height="7" fill="#dc143c"/>
<rect x="1247" y="123" width="1" height="5" fill="#000"/>
<rect x="1251" y="116" width="1" height="20" fill="#3cb371"/>
<rect x="1250" y="120" width="3" height="8" fill="#3cb371"/>
<rect x="1251" y="121" width="1" height="6" fill="#000"/>
<rect x="1255" y="118" width="1" height="18" fill="#dc143c"/>
<rect x="1254" y="119" width="3" height="13" fill="#dc143c"/>
<rect x="1255" y="120" width="1" height="11" fill="#000"/>
<rect x="1259" y="124" width="1" height="28" fill="#dc143c"/>
<rect x="1258" y="132" width="3" height="9" fill="#dc143c"/>
<rect x="1259" y="133" width="1" height="7" fill="#000"/>
<rect x="1263" y="134" width="1" height="21" fill="#dc143c"/>
<rect x="1262" y="140" width="3" height="6" fill="#dc143c"/>
<rect x="1263" y="141" width="1" height="4" fill="#000"/>
<rect x="1267" y="127" width="1" height="27" fill="#3cb371"/>
<rect x="1266" y="135" width="3" height="12" fill="#3cb371"/>
<rect x="1267" y="136" width="1" height="10" fill="#000"/>
<rect x="1271" y="125" width="1" height="24" fill="#dc143c"/>
<rect x="1270" y="135" width="3" height="6" fill="#dc143c"/>
<rect x="1271" y="136" width="1" height="4" fill="#000"/>
<rect x="1275" y="139" width="1" height="35" fill="#dc143c"/>
<rect x="1274" y="140" width="3" height="26" fill="#dc143c"/>
<rect x="1275" y="141" width="1" height="24" fill="#000"/>
<rect x="1279" y="158" width="1" height="25" fill="#dc143c"/>
<rect x="1278" y="165" width="3" height="9" fill="#dc143c"/>
<rect x="1279" y="166" width="1" height="7" fill="#000"/>
<rect x="1283" y="172" width="1" height="28" fill="#dc143c"/>
<rect x="1282" y="173" width="3" height="25" fill="#dc143c"/>
<rect x="1283" y="174" width="1" height="23" fill="#000"/>
<rect x="1287" y="168" width="1" height="33" fill="#3cb371"/>
<rect x="1286" y="174" width="3" height="23" fill="#3cb371"/>
<rect x="1287" y="175" width="1" height="21" fill="#000"/>
<rect x="1291" y="172" width="1" height="34" fill="#dc143c"/>
<rect x="1290" y="174" width="3" height="18" fill="#dc143c"/>
<rect x="1291" y="175" width="1" height="16" fill="#000"/>
<rect x="1295" y="163" width="1" height="33" fill="#3cb371"/>
<rect x="1294" y="177" width="3" height="16" fill="#3cb371"/>
<rect x="1295" y="178" width="1" height="14" fill="#000"/>
<rect x="1299" y="153" width="1" height="29" fill="#3cb371"/>
<rect x="1298" y="154" width="3" height="25" fill="#3cb371"/>
<rect x="1299" y="155" width="1" height="23" fill="#000"/>
<rect x="1303" y="151" width="1" height="25" fill="#dc143c"/>
<rect x="1302" y="154" width="3" height="22" fill="#dc143c"/>
<rect x="1303" y="155" width="1" height="20" fill="#000"/>
<rect x="1307" y="159" width="1" height="20" fill="#3cb371"/>
<rect x="1306" y="160" width="3" height="17" fill="#3cb371"/>
<rect x="1307" y="161" width="1" height="15" fill="#000"/>
<rect x="1311" y="157" width="1" height="16" fill="#dc143c"/>
<rect x="1310" y="161" width="3" height="4" fill="#dc143c"/>
<rect x="1311" y="162" width="1" height="2" fill="#000"/>
<rect x="1315" y="159" width="1" height="11" fill="#dc143c"/>
<rect x="1314" y="164" width="3" height="6" fill="#dc143c"/>
<rect x="1315" y="165" width="1" height="4" fill="#000"/>
<rect x="1319" y="152" width="1" height="21" fill="#3cb371"/>
<rect x="1318" y="155" width="3" height="15" fill="#3cb371"/>
<rect x="1319" y="156" width="1" height="13" fill="#000"/>
<rect x="1323" y="151" width="1" height="9" fill="#dc143c"/>
<rect x="1322" y="154" width="3" height="6" fill="#dc143c"/>
<rect x="1323" y="155" width="1" height="4" fill="#000"/>
<rect x="1327" y="156" width="1" height="8" fill="#dc143c"/>
<rect x="1326" y="158" width="3" height="2" fill="#dc143c"/>
<rect x="1331" y="168" width="1" height="13" fill="#dc143c"/>
<rect x="1330" y="170" width="3" height="6" fill="#dc143c"/>
<rect x="1331" y="171" width="1" height="4" fill="#000"/>
<rect x="1335" y="172" width="1" height="22" fill="#dc143c"/>
<rect x="1334" y="175" width="3" height="12" fill="#dc143c"/>
<rect x="1335" y="176" width="1" height="10" fill="#000"/>
<rect x="1339" y="187" width="1" height="13" fill="#dc143c"/>
<rect x="1338" y="187" width="3" height="12" fill="#dc143c"/>
<rect x="1339" y="188" width="1" height="10" fill="#000"/>
<rect x="1343" y="188" width="1" height="17" fill="#dc143c"/>
<rect x="1342" y="197" width="3" height="6" fill="#dc143c"/>
<rect x="1343" y="198" width="1" height="4" fill="#000"/>
<rect x="1347" y="198" width="1" height="21" fill="#dc143c"/>
<rect x="1346" y="202" width="3" height="7" fill="#dc143c"/>
<rect x="1347" y="203" width="1" height="5" fill="#000"/>
<rect x="1351" y="201" width="1" height="12" fill="#dc143c"/>
<rect x="1350" y="208" width="3" height="5" fill="#dc143c"/>
<rect x="1351" y="209" width="1" height="3" fill="#000"/>
<rect x="1355" y="188" width="1" height="27" fill="#3cb371"/>
<rect x="1354" y="193" width="3" height="19" fill="#3cb371"/>
<rect x="1355" y="194" width="1" height="17" fill="#000"/>
<rect x="1359" y="186" width="1" height="53" fill="#dc143c"/>
<rect x="1358" y="194" width="3" height="38" fill="#dc143c"/>
<rect x="1359" y="195" width="1" height="36" fill="#000"/>
<rect x="1363" y="214" width="1" height="24" fill="#3cb371"/>
<rect x="1362" y="216" width="3" height="17" fill="#3cb371"/>
<rect x="1363" y="217" width="1" height="15" fill="#000"/>
<rect x="1367" y="204" width="1" height="21" fill="#3cb371"/>
<rect x="1366" y="209" width="3" height="8" fill="#3cb371"/>
<rect x="1367" y="210" width="1" height="6" fill="#000"/>
<rect x="1371" y="193" width="1" height="23" fill="#3cb371"/>
<rect x="1370" y="195" width="3" height="15" fill="#3cb371"/>
<rect x="1371" y="196" width="1" height="13" fill="#000"/>
<rect x="1375" y="182" width="1" height="17" fill="#3cb371"/>
<rect x="1374" y="186" width="3" height="11" fill="#3cb371"/>
<rect x="1375" y="187" width="1" height="9" fill="#000"/>
<rect x="1379" y="185" width="1" height="35" fill="#dc143c"/>
<rect x="1378" y="186" width="3" height="30" fill="#dc143c"/>
<rect x="1379" y="187" width="1" height="28" fill="#000"/>
<rect x="1383" y="204" width="1" height="32" fill="#dc143c"/>
<rect x="1382" y="214" width="3" height="13" fill="#dc143c"/>
<rect x="1383" y="215" width="1" height="11" fill="#000"/>
<rect x="1387" y="200" width="1" height="45" fill="#dc143c"/>
<rect x="1386" y="225" width="3" height="10" fill="#dc143c"/>
<rect x="1387" y="226" width="1" height="8" fill="#000"/>
<rect x="1391" y="209" width="1" height="36" fill="#3cb371"/>
<rect x="1390" y="215" width="3" height="21" fill="#3cb371"/>
<rect x="1391" y="216" width="1" height="19" fill="#000"/>
<rect x="1395" y="209" width="1" height="26" fill="#dc143c"/>
<rect x="1394" y="215" width="3" height="16" fill="#dc143c"/>
<rect x="1395" y="216" width="1" height="14" fill="#000"/>
<rect x="1399" y="223" width="1" height="16" fill="#dc143c"/>
<rect x="1398" y="229" width="3" height="2" fill="#dc143c"/>
<rect x="1403" y="226" width="1" height="9" fill="#dc143c"/>
<rect x="1402" y="230" width="3" height="3" fill="#dc143c"/>
<rect x="1403" y="231" width="1" height="1" fill="#000"/>
<rect x="1407" y="229" width="1" height="11" fill="#3cb371"/>
<rect x="1406" y="231" width="3" height="2" fill="#3cb371"/>
<rect x="1411" y="225" width="1" height="16" fill="#dc143c"/>
<rect x="1410" y="232" width="3" height="7" fill="#dc143c"/>
<rect x="1411" y="233" width="1" height="5" fill="#000"/>
<path d="M20.8 458a6.2 6.2 0 1 0 12.4 0a6.2 6.2 0 1 0 -12.4 0zM27 453.1L30.7 456.5L28.9 456.3L28.9 464.0L25.1 464.0L25.1 456.3L23.3 456.5z" fill="#3cb371" fill-rule="evenodd" opacity="0.9" shape-rendering="geometricPrecision"/>
<path d="M201.3 370a6.2 6.2 0 1 0 12.4 0a6.2 6.2 0 1 0 -12.4 0zM207.5 374.9L211.2 371.5L209.4 371.7L209.4 364.0L205.6 364.0L205.6 371.7L203.8 371.5z" fill="#dc143c" fill-rule="evenodd" opacity="0.9" shape-rendering="geometricPrecision"/>
<path d="M212.8 366.5a6.2 6.2 0 1 0 12.4 0a6.2 6.2 0 1 0 -12.4 0zM219 361.6L222.7 365.0L220.9 364.8L220.9 372.5L217.1 372.5L217.1 364.8L215.3 365.0z" fill="#3cb371" fill-rule="evenodd" opacity="0.9" shape-rendering="geometricPrecision"/>
<path d="M321.1 338.7a6.2 6.2 0 1 0 12.4 0a6.2 6.2 0 1 0 -12.4 0zM327.3 343.59999999999997L331.0 340.2L329.2 340.4L329.2 332.7L325.40000000000003 332.7L325.40000000000003 340.4L323.6 340.2z" fill="#dc143c" fill-rule="evenodd" opacity="0.9" shape-rendering="geometricPrecision"/>
<path d="M333.5 343.9a6.2 6.2 0 1 0 12.4 0a6.2 6.2 0 1 0 -12.4 0zM339.7 348.79999999999995L343.4 345.4L341.59999999999997 345.59999999999997L341.59999999999997 337.9L337.8 337.9L337.8 345.59999999999997L336.0 345.4z" fill="#dc143c" fill-rule="evenodd" opacity="0.9" shape-rendering="geometricPrecision"/>
<path d="M361.2 365.7a6.2 6.2 0 1 0 12.4 0a6.2 6.2 0 1 0 -12.4 0zM367.4 360.8L371.09999999999997 364.2L369.29999999999995 364.0L369.29999999999995 371.7L365.5 371.7L365.5 364.0L363.7 364.2z" fill="#3cb371" fill-rule="evenodd" opacity="0.9" shape-rendering="geometricPrecision"/>
<path d="M413.2 337.5a6.2 6.2 0 1 0 12.4 0a6.2 6.2 0 1 0 -12.4 0zM419.4 332.6L423.09999999999997 336.0L421.29999999999995 335.8L421.29999999999995 343.5L417.5 343.5L417.5 335.8L415.7 336.0z" fill="#3cb371" fill-rule="evenodd" opacity="0.9" shape-rendering="geometricPrecision"/>
<path d="M537.0 285.2a6.2 6.2 0 1 0 12.4 0a6.2 6.2 0 1 0 -12.4 0zM543.2 290.09999999999997L546.9000000000001 286.7L545.1 286.9L545.1 279.2L541.3000000000001 279.2L541.3000000000001 286.9L539.5 286.7z" fill="#dc143c" fill-rule="evenodd" opacity="0.9" shape-rendering="geometricPrecision"/>
<path d="M641.0999999999999 316.8a6.2 6.2 0 1 0 12.4 0a6.2 6.2 0 1 0 -12.4 0zM647.3 311.90000000000003L651.0 315.3L649.1999999999999 315.1L649.1999999999999 322.8L645.4 322.8L645.4 315.1L643.5999999999999 315.3z" fill="#3cb371" fill-rule="evenodd" opacity="0.9" shape-rendering="geometricPrecision"/>
<path d="M809.1999999999999 252.6a6.2 6.2 0 1 0 12.4 0a6.2 6.2 0 1 0 -12.4 0zM815.4 257.5L819.1 254.1L817.3 254.29999999999998L817.3 246.6L813.5 246.6L813.5 254.29999999999998L811.6999999999999 254.1z" fill="#dc143c" fill-rule="evenodd" opacity="0.9" shape-rendering="geometricPrecision"/>
<path d="M833.0 255a6.2 6.2 0 1 0 12.4 0a6.2 6.2 0 1 0 -12.4 0zM839.2 259.9L842.9000000000001 256.5L841.1 256.7L841.1 249.0L837.3000000000001 249.0L837.3000000000001 256.7L835.5 256.5z" fill="#dc143c" fill-rule="evenodd" opacity="0.9" shape-rendering="geometricPrecision"/>
<path d="M865.1999999999999 275a6.2 6.2 0 1 0 12.4 0a6.2 6.2 0 1 0 -12.4 0zM871.4 270.1L875.1 273.5L873.3 273.3L873.3 281.0L869.5 281.0L869.5 273.3L867.6999999999999 273.5z" fill="#3cb371" fill-rule="evenodd" opacity="0.9" shape-rendering="geometricPrecision"/>
<path d="M1105.1 76.1a6.2 6.2 0 1 0 12.4 0a6.2 6.2 0 1 0 -12.4 0zM1111.3 81.0L1115.0 77.6L1113.2 77.8L1113.2 70.1L1109.3999999999999 70.1L1109.3999999999999 77.8L1107.6 77.6z" fill="#dc143c" fill-rule="evenodd" opacity="0.9" shape-rendering="geometricPrecision"/>
<path d="M1169.1 101.8a6.2 6.2 0 1 0 12.4 0a6.2 6.2 0 1 0 -12.4 0zM1175.3 96.89999999999999L1179.0 100.3L1177.2 100.1L1177.2 107.8L1173.3999999999999 107.8L1173.3999999999999 100.1L1171.6 100.3z" fill="#3cb371" fill-rule="evenodd" opacity="0.9" shape-rendering="geometricPrecision"/>
<path d="M1205.2 135.9a6.2 6.2 0 1 0 12.4 0a6.2 6.2 0 1 0 -12.4 0zM1211.4 140.8L1215.1000000000001 137.4L1213.3000000000002 137.6L1213.3000000000002 129.9L1209.5 129.9L1209.5 137.6L1207.7 137.4z" fill="#dc143c" fill-rule="evenodd" opacity="0.9" shape-rendering="geometricPrecision"/>
<path d="M1325.0 164.5a6.2 6.2 0 1 0 12.4 0a6.2 6.2 0 1 0 -12.4 0zM1331.2 169.4L1334.9 166.0L1333.1000000000001 166.2L1333.1000000000001 158.5L1329.3 158.5L1329.3 166.2L1327.5 166.0z" fill="#dc143c" fill-rule="evenodd" opacity="0.9" shape-rendering="geometricPrecision"/>
</g>
<g id="sub" clip-path="url(#cs)">
<path d="M1 580V515H5V516H6V517H7V518H9V520H10V521H13V524H14V525H15V526H17V528H18V529H21V531H22V532H23V533H25V580z" fill="#009400"/>
<path d="M25 580V534H27V535H30V536H37V537H41V538H46V539H53V540H60V539H61V536H64V534H65V580z" fill="#656565"/>
<path d="M65 580V530H68V528H69V524H72V523H73V520H77V521H81V522H82V523H85V524H89V525H97V524H101V525H102V526H105V527H107V528H109V527H117V528H119V529H121V530H123V531H127V532H136V531H137V530H141V529H145V528H148V527H152V526H153V525H165V528H166V529H167V530H169V532H170V533H171V534H173V580z" fill="#009400"/>
<path d="M173 580V535H174V536H175V537H177V538H178V539H179V540H181V541H182V542H185V544H187V545H189V549H190V551H191V553H193V556H194V557H195V559H197V563H198V564H199V566H201V570H202V572H203V574H205V578H206V580H207V582H209V584H210V586H211V587H213V586H216V584H217V579H220V577H221V573H224V572H225V567H228V566H229V563H232V562H233V559H236V558H237V555H240V554H241V551H244V550H245V547H248V546H249V543H252V542H253V538H257V536H262V537H265V538H272V537H277V536H281V535H285V536H289V538H291V539H293V541H294V542H297V546H298V548H299V549H301V553H302V554H303V556H305V559H306V561H307V562H309V564H310V565H311V566H313V568H314V569H315V570H317V572H318V573H319V574H321V576H322V577H323V579H325V581H326V582H327V583H329V585H330V586H331V587H333V589H334V590H335V591H337V592H338V593H339V594H343V595H344V594H345V593H348V592H349V589H353V586H356V585H357V583H360V582H361V581H364V580H365V579H368V578H369V576H372V575H373V573H376V572H377V570H380V569H381V568H384V567H385V566H389V564H392V563H393V561H397V563H398V564H399V565H401V568H402V569H403V570H405V572H406V573H407V574H410V575H413V574H421V575H425V574H429V572H432V571H433V569H436V568H437V566H441V565H444V564H445V563H448V562H449V557H452V555H453V549H456V547H457V540H460V539H461V534H464V533H465V580z" fill="#656565"/>
<path d="M465 580V530H468V529H469V527H472V526H473V525H477V524H484V523H485V522H488V521H489V520H497V521H501V523H502V524H503V525H505V527H506V528H507V529H509V531H510V532H511V533H513V580z" fill="#009400"/>
<path d="M513 580V535H514V536H515V537H517V539H518V540H519V541H521V543H523V544H525V546H526V547H527V548H529V551H530V552H531V553H533V557H534V559H535V560H537V567H538V570H539V573H541V578H542V580H543V583H545V587H546V589H547V591H549V595H550V597H551V599H553V602H554V603H555V605H557V607H558V608H559V609H561V613H562V615H563V617H565V621H566V622H567V624H569V580z" fill="#656565"/>
<path d="M569 580V627H570V628H571V630H573V632H574V633H575V634H577V636H578V637H579V638H581V639H582V640H583V641H587V642H592V641H593V640H596V639H597V638H600V637H601V635H605V633H609V630H612V629H613V580z" fill="#930000"/>
<path d="M613 580V625H616V624H617V620H620V619H621V616H624V615H625V612H628V611H629V607H632V606H633V602H636V600H637V594H640V592H641V586H644V583H645V576H648V574H649V570H652V568H653V563H656V562H657V558H660V556H661V552H664V550H665V545H668V543H669V537H672V536H673V580z" fill="#656565"/>
<path d="M673 580V531H676V530H677V526H680V525H681V521H684V520H685V518H688V517H689V515H693V516H697V517H698V518H701V519H703V520H704V519H709V518H713V517H717V518H719V519H721V520H723V521H725V522H727V523H729V524H731V525H733V526H734V527H735V528H737V530H739V531H741V532H742V533H743V534H745V580z" fill="#009400"/>
<path d="M745 580V534H747V535H755V536H757V538H758V539H759V541H761V542H765V543H767V544H771V545H777V544H781V545H785V546H789V547H791V548H793V550H794V551H795V552H797V555H798V557H799V559H801V563H802V565H803V567H805V570H806V572H807V574H809V575H810V576H811V577H813V579H814V581H815V582H817V584H818V586H819V587H821V590H822V591H823V592H825V594H826V595H829V597H830V598H831V599H833V600H835V601H838V602H840V601H841V600H844V599H845V597H848V596H849V593H852V592H853V589H856V588H857V586H860V585H861V583H864V582H865V580H868V579H869V576H872V575H873V572H876V571H877V568H880V567H881V563H884V561H885V556H888V554H889V548H892V547H893V541H896V540H897V535H900V533H901V580z" fill="#656565"/>
<path d="M901 580V529H904V527H905V523H908V522H909V519H913V518H916V517H917V516H921V515H925V514H930V515H941V514H945V513H949V512H953V511H961V510H969V511H970V512H973V513H975V514H979V515H986V516H989V517H991V518H993V519H995V520H997V521H1001V522H1005V523H1010V524H1020V523H1021V522H1033V523H1035V524H1037V525H1041V526H1042V527H1045V528H1047V529H1050V530H1053V531H1054V532H1057V533H1059V534H1061V580z" fill="#009400"/>
<path d="M1061 580V534H1062V535H1067V536H1073V537H1074V538H1075V539H1077V540H1078V541H1079V542H1081V543H1082V544H1083V545H1085V546H1087V547H1089V548H1091V549H1093V551H1094V552H1095V553H1097V556H1098V558H1099V560H1101V564H1102V566H1103V568H1105V572H1106V574H1107V576H1109V580H1110V582H1111V584H1113V588H1114V591H1115V593H1117V597H1118V600H1119V602H1121V606H1122V609H1123V611H1125V615H1126V617H1127V619H1129V621H1130V622H1131V624H1133V625H1134V626H1135V627H1137V626H1140V625H1141V623H1144V622H1145V618H1148V617H1149V613H1152V611H1153V606H1156V605H1157V600H1160V599H1161V595H1164V594H1165V590H1168V588H1169V584H1172V582H1173V578H1176V577H1177V574H1180V573H1181V570H1184V569H1185V566H1188V563H1189V557H1192V555H1193V552H1197V555H1198V557H1199V559H1201V564H1202V566H1203V569H1205V573H1206V576H1207V578H1209V582H1210V584H1211V586H1213V589H1214V591H1215V592H1217V595H1218V596H1219V597H1221V600H1222V601H1223V602H1225V604H1226V605H1227V606H1229V608H1230V609H1231V610H1233V612H1235V613H1237V615H1239V616H1241V617H1243V618H1245V619H1246V620H1247V621H1248V620H1249V619H1252V618H1253V617H1257V616H1261V615H1265V616H1269V617H1273V618H1275V619H1278V620H1283V621H1285V620H1301V621H1305V620H1308V619H1309V618H1313V617H1316V616H1317V614H1320V613H1321V610H1324V609H1325V605H1328V603H1329V599H1333V598H1339V599H1341V600H1343V601H1345V602H1346V603H1347V604H1349V606H1350V607H1351V608H1353V609H1355V610H1357V612H1358V613H1359V614H1361V615H1362V616H1363V617H1365V618H1367V619H1374V620H1377V621H1378V622H1381V623H1382V624H1383V625H1384V624H1385V623H1389V622H1393V621H1401V620H1405V621H1407V622H1413V580z" fill="#656565"/>
<path d="M3 549.5H1410" stroke="#008200" stroke-width="1" stroke-dasharray="3 3" fill="none"/>
<path d="M3 611.5H1410" stroke="#8b0000" stroke-width="1" stroke-dasharray="3 3" fill="none"/>
<g shape-rendering="geometricPrecision" fill="none" stroke-linejoin="round" stroke-linecap="round">
<path d="M3.5 515.2 L7.5 516.2 L11.5 531.0 L15.5 560.6 L19.5 582.6 L23.5 592.9 L27.5 563.7 L31.5 538.4 L35.5 524.0 L39.5 520.0 L43.5 527.4 L47.5 523.4 L51.5 519.4 L55.5 511.1 L59.5 513.6 L63.5 516.7 L67.5 518.8 L71.5 519.4 L75.5 522.6 L79.5 529.2 L83.5 534.7 L87.5 540.2 L91.5 537.3 L95.5 534.4 L99.5 531.5 L103.5 528.2 L107.5 524.7 L111.5 520.7 L115.5 518.9 L119.5 526.8 L123.5 533.2 L127.5 541.1 L131.5 538.1 L135.5 538.8 L139.5 532.0 L143.5 525.6 L147.5 520.6 L151.5 516.0 L155.5 512.0 L159.5 508.8 L163.5 512.8 L167.5 545.2 L171.5 569.2 L175.5 588.3 L179.5 595.2 L183.5 600.3 L187.5 599.5 L191.5 596.6 L195.5 597.4 L199.5 603.1 L203.5 601.1 L207.5 595.6 L211.5 575.2 L215.5 549.8 L219.5 524.9 L223.5 520.9 L227.5 520.9 L231.5 525.5 L235.5 533.5 L239.5 541.5 L243.5 546.3 L247.5 545.5 L251.5 542.3 L255.5 537.3 L259.5 534.7 L263.5 539.8 L267.5 543.2 L271.5 535.8 L275.5 525.9 L279.5 523.4 L283.5 520.6 L287.5 531.6 L291.5 552.0 L295.5 579.8 L299.5 608.1 L303.5 615.3 L307.5 615.2 L311.5 603.4 L315.5 598.8 L319.5 594.8 L323.5 589.1 L327.5 583.1 L331.5 578.5 L335.5 576.6 L339.5 582.6 L343.5 587.2 L347.5 588.0 L351.5 579.0 L355.5 572.0 L359.5 569.7 L363.5 569.7 L367.5 575.0 L371.5 566.7 L375.5 551.8 L379.5 536.3 L383.5 537.9 L387.5 556.8 L391.5 555.8 L395.5 551.8 L399.5 572.2 L403.5 592.3 L407.5 608.6 L411.5 604.5 L415.5 587.3 L419.5 577.0 L423.5 571.0 L427.5 560.4 L431.5 538.4 L435.5 525.2 L439.5 530.5 L443.5 538.1 L447.5 544.6 L451.5 533.6 L455.5 521.6 L459.5 513.8 L463.5 512.8 L467.5 515.4 L471.5 521.0 L475.5 527.8 L479.5 529.0 L483.5 523.8 L487.5 515.7 L491.5 512.7 L495.5 522.6 L499.5 538.4 L503.5 549.4 L507.5 555.9 L511.5 562.6 L515.5 568.4 L519.5 571.9 L523.5 574.2 L527.5 578.5 L531.5 587.9 L535.5 605.2 L539.5 624.0 L543.5 640.5 L547.5 645.3 L551.5 640.5 L555.5 632.6 L559.5 626.6 L563.5 636.9 L567.5 645.9 L571.5 648.1 L575.5 645.5 L579.5 643.9 L583.5 642.7 L587.5 641.7 L591.5 640.9 L595.5 636.2 L599.5 626.2 L603.5 609.6 L607.5 598.5 L611.5 594.0 L615.5 593.2 L619.5 593.8 L623.5 594.6 L627.5 587.4 L631.5 580.6 L635.5 574.1 L639.5 566.8 L643.5 551.5 L647.5 531.1 L651.5 511.2 L655.5 514.5 L659.5 516.8 L663.5 518.1 L667.5 511.7 L671.5 507.7 L675.5 506.4 L679.5 510.2 L683.5 516.8 L687.5 521.2 L691.5 524.0 L695.5 527.0 L699.5 530.7 L703.5 532.0 L707.5 525.4 L711.5 512.4 L715.5 507.0 L719.5 509.1 L723.5 517.9 L727.5 527.5 L731.5 537.1 L735.5 546.7 L739.5 554.7 L743.5 561.8 L747.5 558.3 L751.5 551.0 L755.5 543.8 L759.5 538.4 L763.5 539.7 L767.5 537.2 L771.5 533.8 L775.5 531.8 L779.5 533.9 L783.5 540.6 L787.5 551.8 L791.5 576.7 L795.5 600.0 L799.5 625.2 L803.5 641.2 L807.5 644.8 L811.5 626.6 L815.5 604.8 L819.5 589.6 L823.5 590.3 L827.5 577.8 L831.5 568.8 L835.5 575.4 L839.5 583.3 L843.5 589.3 L847.5 583.6 L851.5 581.5 L855.5 584.5 L859.5 586.5 L863.5 582.4 L867.5 572.2 L871.5 558.8 L875.5 537.0 L879.5 517.3 L883.5 510.2 L887.5 508.5 L891.5 510.1 L895.5 512.4 L899.5 515.7 L903.5 515.3 L907.5 512.6 L911.5 514.3 L915.5 516.9 L919.5 515.2 L923.5 512.3 L927.5 511.3 L931.5 517.3 L935.5 517.8 L939.5 514.7 L943.5 508.1 L947.5 506.5 L951.5 506.7 L955.5 507.0 L959.5 507.3 L963.5 508.0 L967.5 511.1 L971.5 518.9 L975.5 528.6 L979.5 536.0 L983.5 532.7 L987.5 533.6 L991.5 535.9 L995.5 538.9 L999.5 529.9 L1003.5 518.3 L1007.5 509.3 L1011.5 505.8 L1015.5 509.2 L1019.5 514.3 L1023.5 518.0 L1027.5 521.3 L1031.5 528.3 L1035.5 538.9 L1039.5 547.6 L1043.5 552.4 L1047.5 552.3 L1051.5 547.8 L1055.5 540.7 L1059.5 533.5 L1063.5 528.3 L1067.5 524.2 L1071.5 522.9 L1075.5 527.7 L1079.5 540.8 L1083.5 558.8 L1087.5 583.4 L1091.5 603.6 L1095.5 628.9 L1099.5 637.9 L1103.5 646.6 L1107.5 644.7 L1111.5 638.2 L1115.5 632.0 L1119.5 627.2 L1123.5 623.5 L1127.5 619.1 L1131.5 609.8 L1135.5 605.9 L1139.5 603.0 L1143.5 607.0 L1147.5 595.2 L1151.5 584.8 L1155.5 576.2 L1159.5 569.9 L1163.5 565.7 L1167.5 556.4 L1171.5 542.4 L1175.5 532.9 L1179.5 535.3 L1183.5 544.2 L1187.5 552.2 L1191.5 541.0 L1195.5 525.0 L1199.5 566.3 L1203.5 602.6 L1207.5 626.7 L1211.5 628.3 L1215.5 625.8 L1219.5 618.7 L1223.5 614.2 L1227.5 616.9 L1231.5 624.8 L1235.5 631.7 L1239.5 631.7 L1243.5 616.9 L1247.5 603.7 L1251.5 598.9 L1255.5 601.7 L1259.5 606.6 L1263.5 615.4 L1267.5 616.5 L1271.5 619.5 L1275.5 628.9 L1279.5 640.5 L1283.5 649.2 L1287.5 642.8 L1291.5 634.0 L1295.5 618.2 L1299.5 602.8 L1303.5 592.8 L1307.5 586.0 L1311.5 590.5 L1315.5 587.2 L1319.5 583.8 L1323.5 580.7 L1327.5 576.0 L1331.5 588.5 L1335.5 606.3 L1339.5 625.0 L1343.5 638.5 L1347.5 645.0 L1351.5 646.0 L1355.5 636.2 L1359.5 636.0 L1363.5 630.7 L1367.5 625.7 L1371.5 602.1 L1375.5 587.8 L1379.5 592.4 L1383.5 607.8 L1387.5 633.4 L1391.5 631.6 L1395.5 629.8 L1399.5 630.7 L1403.5 636.8 L1407.5 638.7 L1411.5 641.5" stroke="#76839a" stroke-width="1"/>
<path d="M3.5 515.2 L7.5 517.6 L11.5 521.5 L15.5 526.0 L19.5 529.5 L23.5 532.6 L27.5 534.6 L31.5 535.9 L35.5 536.4 L39.5 537.0 L43.5 538.1 L47.5 538.8 L51.5 539.3 L55.5 539.7 L59.5 540.2 L63.5 535.9 L67.5 530.0 L71.5 523.5 L75.5 520.1 L79.5 521.3 L83.5 523.0 L87.5 524.5 L91.5 525.1 L95.5 525.0 L99.5 524.4 L103.5 526.0 L107.5 527.6 L111.5 527.3 L115.5 527.0 L119.5 528.8 L123.5 530.9 L127.5 531.7 L131.5 532.1 L135.5 531.6 L139.5 530.4 L143.5 529.1 L147.5 527.8 L151.5 526.6 L155.5 525.5 L159.5 525.4 L163.5 525.4 L167.5 530.0 L171.5 533.9 L175.5 536.8 L179.5 539.7 L183.5 542.4 L187.5 545.1 L191.5 552.7 L195.5 559.0 L199.5 566.3 L203.5 574.0 L207.5 581.8 L211.5 586.8 L215.5 585.9 L219.5 578.9 L223.5 572.9 L227.5 567.4 L231.5 563.0 L235.5 559.2 L239.5 555.5 L243.5 551.5 L247.5 547.5 L251.5 542.9 L255.5 538.3 L259.5 536.0 L263.5 537.0 L267.5 538.1 L271.5 537.6 L275.5 536.7 L279.5 535.9 L283.5 535.0 L287.5 536.0 L291.5 539.1 L295.5 542.3 L299.5 549.3 L303.5 556.1 L307.5 562.2 L311.5 566.2 L315.5 570.2 L319.5 574.2 L323.5 578.5 L327.5 583.2 L331.5 587.4 L335.5 591.3 L339.5 593.6 L343.5 594.6 L347.5 592.7 L351.5 589.3 L355.5 586.0 L359.5 583.0 L363.5 580.7 L367.5 578.7 L371.5 576.1 L375.5 572.7 L379.5 569.6 L383.5 567.9 L387.5 566.1 L391.5 563.9 L395.5 561.1 L399.5 565.4 L403.5 570.2 L407.5 573.5 L411.5 575.1 L415.5 573.8 L419.5 574.2 L423.5 575.3 L427.5 574.5 L431.5 571.7 L435.5 568.8 L439.5 566.4 L443.5 564.8 L447.5 563.2 L451.5 557.1 L455.5 548.7 L459.5 540.3 L463.5 534.0 L467.5 530.1 L471.5 526.6 L475.5 525.3 L479.5 524.4 L483.5 523.8 L487.5 521.7 L491.5 520.3 L495.5 520.1 L499.5 521.0 L503.5 525.0 L507.5 529.0 L511.5 533.0 L515.5 537.0 L519.5 540.9 L523.5 544.2 L527.5 547.9 L531.5 553.1 L535.5 560.3 L539.5 573.0 L543.5 582.6 L547.5 591.1 L551.5 599.1 L555.5 604.8 L559.5 609.4 L563.5 617.4 L567.5 624.1 L571.5 629.6 L575.5 634.3 L579.5 638.3 L583.5 640.6 L587.5 641.8 L591.5 641.8 L595.5 639.9 L599.5 637.7 L603.5 635.4 L607.5 633.5 L611.5 629.7 L615.5 625.1 L619.5 620.3 L623.5 616.2 L627.5 611.8 L631.5 606.8 L635.5 602.0 L639.5 594.4 L643.5 585.6 L647.5 576.2 L651.5 569.5 L655.5 563.3 L659.5 558.0 L663.5 551.9 L667.5 545.2 L671.5 537.3 L675.5 530.9 L679.5 525.7 L683.5 521.0 L687.5 518.0 L691.5 515.5 L695.5 516.3 L699.5 518.3 L703.5 519.5 L707.5 519.0 L711.5 518.1 L715.5 517.0 L719.5 518.6 L723.5 520.6 L727.5 522.8 L731.5 524.9 L735.5 527.9 L739.5 531.2 L743.5 533.6 L747.5 534.8 L751.5 535.1 L755.5 535.5 L759.5 540.5 L763.5 542.5 L767.5 543.8 L771.5 544.7 L775.5 544.9 L779.5 544.4 L783.5 545.1 L787.5 546.3 L791.5 547.7 L795.5 552.0 L799.5 559.0 L803.5 567.0 L807.5 573.9 L811.5 577.1 L815.5 581.7 L819.5 587.1 L823.5 592.1 L827.5 595.3 L831.5 598.5 L835.5 601.1 L839.5 601.7 L843.5 599.6 L847.5 596.8 L851.5 593.3 L855.5 589.0 L859.5 585.8 L863.5 583.1 L867.5 580.4 L871.5 576.4 L875.5 572.4 L879.5 568.1 L883.5 563.3 L887.5 555.6 L891.5 548.3 L895.5 541.3 L899.5 534.9 L903.5 528.5 L907.5 523.2 L911.5 519.1 L915.5 517.5 L919.5 516.1 L923.5 515.0 L927.5 514.2 L931.5 514.7 L935.5 515.1 L939.5 514.7 L943.5 513.9 L947.5 512.9 L951.5 511.7 L955.5 511.4 L959.5 511.0 L963.5 510.1 L967.5 510.3 L971.5 512.3 L975.5 513.8 L979.5 514.7 L983.5 514.7 L987.5 516.1 L991.5 517.8 L995.5 519.8 L999.5 521.3 L1003.5 522.2 L1007.5 523.0 L1011.5 523.8 L1015.5 524.1 L1019.5 523.7 L1023.5 522.1 L1027.5 521.5 L1031.5 521.9 L1035.5 523.9 L1039.5 525.4 L1043.5 526.9 L1047.5 528.6 L1051.5 530.3 L1055.5 532.0 L1059.5 533.7 L1063.5 534.9 L1067.5 535.7 L1071.5 536.0 L1075.5 538.6 L1079.5 541.9 L1083.5 544.6 L1087.5 547.0 L1091.5 548.9 L1095.5 553.3 L1099.5 559.6 L1103.5 567.6 L1107.5 575.6 L1111.5 584.0 L1115.5 593.0 L1119.5 602.0 L1123.5 611.0 L1127.5 619.0 L1131.5 623.6 L1135.5 626.9 L1139.5 625.6 L1143.5 622.6 L1147.5 618.3 L1151.5 612.7 L1155.5 606.3 L1159.5 600.4 L1163.5 594.8 L1167.5 589.5 L1171.5 583.8 L1175.5 577.8 L1179.5 573.9 L1183.5 570.5 L1187.5 565.7 L1191.5 556.8 L1195.5 551.5 L1199.5 558.7 L1203.5 568.8 L1207.5 578.0 L1211.5 586.1 L1215.5 592.1 L1219.5 597.3 L1223.5 602.0 L1227.5 606.1 L1231.5 610.0 L1235.5 613.3 L1239.5 615.9 L1243.5 617.5 L1247.5 620.5 L1251.5 618.5 L1255.5 617.2 L1259.5 616.1 L1263.5 615.4 L1267.5 616.0 L1271.5 617.3 L1275.5 618.7 L1279.5 619.9 L1283.5 620.7 L1287.5 620.2 L1291.5 619.8 L1295.5 620.1 L1299.5 620.4 L1303.5 620.9 L1307.5 619.6 L1311.5 618.2 L1315.5 616.6 L1319.5 614.3 L1323.5 609.8 L1327.5 604.7 L1331.5 599.2 L1335.5 597.6 L1339.5 598.6 L1343.5 600.7 L1347.5 604.2 L1351.5 608.2 L1355.5 609.8 L1359.5 613.8 L1363.5 616.7 L1367.5 618.6 L1371.5 618.6 L1375.5 619.8 L1379.5 622.2 L1383.5 624.6 L1387.5 623.4 L1391.5 622.0 L1395.5 621.2 L1399.5 620.7 L1403.5 620.3 L1407.5 621.5 L1411.5 621.9" stroke="#76839a" stroke-width="1"/>
<path d="M3.5 515.2 L7.5 517.6 L11.5 521.5 L15.5 526.0 L19.5 529.5 L23.5 532.6 L27.5 534.6 L31.5 535.9 L35.5 536.4 L39.5 537.0 L43.5 538.1 L47.5 538.8 L51.5 539.3 L55.5 539.7 L59.5 540.2 L63.5 535.9 L67.5 530.0 L71.5 523.5 L75.5 520.1 L79.5 521.3 L83.5 523.0 L87.5 524.5 L91.5 525.1 L95.5 525.0 L99.5 524.4 L103.5 526.0 L107.5 527.6 L111.5 527.3 L115.5 527.0 L119.5 528.8 L123.5 530.9 L127.5 531.7 L131.5 532.1 L135.5 531.6 L139.5 530.4 L143.5 529.1 L147.5 527.8 L151.5 526.6 L155.5 525.5 L159.5 525.4 L163.5 525.4 L167.5 530.0 L171.5 533.9 L175.5 536.8 L179.5 539.7 L183.5 542.4 L187.5 545.1" stroke="#00ff7f" stroke-width="3"/>
<path d="M243.5 551.5 L247.5 547.5 L251.5 542.9 L255.5 538.3 L259.5 536.0 L263.5 537.0 L267.5 538.1 L271.5 537.6 L275.5 536.7 L279.5 535.9 L283.5 535.0 L287.5 536.0 L291.5 539.1 L295.5 542.3" stroke="#00ff7f" stroke-width="3"/>
<path d="M451.5 557.1 L455.5 548.7 L459.5 540.3 L463.5 534.0 L467.5 530.1 L471.5 526.6 L475.5 525.3 L479.5 524.4 L483.5 523.8 L487.5 521.7 L491.5 520.3 L495.5 520.1 L499.5 521.0 L503.5 525.0 L507.5 529.0 L511.5 533.0 L515.5 537.0 L519.5 540.9 L523.5 544.2 L527.5 547.9" stroke="#00ff7f" stroke-width="3"/>
<path d="M663.5 551.9 L667.5 545.2 L671.5 537.3 L675.5 530.9 L679.5 525.7 L683.5 521.0 L687.5 518.0 L691.5 515.5 L695.5 516.3 L699.5 518.3 L703.5 519.5 L707.5 519.0 L711.5 518.1 L715.5 517.0 L719.5 518.6 L723.5 520.6 L727.5 522.8 L731.5 524.9 L735.5 527.9 L739.5 531.2 L743.5 533.6 L747.5 534.8 L751.5 535.1 L755.5 535.5 L759.5 540.5 L763.5 542.5 L767.5 543.8 L771.5 544.7 L775.5 544.9 L779.5 544.4 L783.5 545.1 L787.5 546.3 L791.5 547.7" stroke="#00ff7f" stroke-width="3"/>
<path d="M887.5 555.6 L891.5 548.3 L895.5 541.3 L899.5 534.9 L903.5 528.5 L907.5 523.2 L911.5 519.1 L915.5 517.5 L919.5 516.1 L923.5 515.0 L927.5 514.2 L931.5 514.7 L935.5 515.1 L939.5 514.7 L943.5 513.9 L947.5 512.9 L951.5 511.7 L955.5 511.4 L959.5 511.0 L963.5 510.1 L967.5 510.3 L971.5 512.3 L975.5 513.8 L979.5 514.7 L983.5 514.7 L987.5 516.1 L991.5 517.8 L995.5 519.8 L999.5 521.3 L1003.5 522.2 L1007.5 523.0 L1011.5 523.8 L1015.5 524.1 L1019.5 523.7 L1023.5 522.1 L1027.5 521.5 L1031.5 521.9 L1035.5 523.9 L1039.5 525.4 L1043.5 526.9 L1047.5 528.6 L1051.5 530.3 L1055.5 532.0 L1059.5 533.7 L1063.5 534.9 L1067.5 535.7 L1071.5 536.0 L1075.5 538.6 L1079.5 541.9 L1083.5 544.6 L1087.5 547.0 L1091.5 548.9" stroke="#00ff7f" stroke-width="3"/>
<path d="M559.5 609.4 L563.5 617.4 L567.5 624.1 L571.5 629.6 L575.5 634.3 L579.5 638.3 L583.5 640.6 L587.5 641.8 L591.5 641.8 L595.5 639.9 L599.5 637.7 L603.5 635.4 L607.5 633.5 L611.5 629.7 L615.5 625.1 L619.5 620.3 L623.5 616.2 L627.5 611.8" stroke="#dc143c" stroke-width="3"/>
<path d="M1123.5 611.0 L1127.5 619.0 L1131.5 623.6 L1135.5 626.9 L1139.5 625.6 L1143.5 622.6 L1147.5 618.3 L1151.5 612.7" stroke="#dc143c" stroke-width="3"/>
<path d="M1231.5 610.0 L1235.5 613.3 L1239.5 615.9 L1243.5 617.5 L1247.5 620.5 L1251.5 618.5 L1255.5 617.2 L1259.5 616.1 L1263.5 615.4 L1267.5 616.0 L1271.5 617.3 L1275.5 618.7 L1279.5 619.9 L1283.5 620.7 L1287.5 620.2 L1291.5 619.8 L1295.5 620.1 L1299.5 620.4 L1303.5 620.9 L1307.5 619.6 L1311.5 618.2 L1315.5 616.6 L1319.5 614.3" stroke="#dc143c" stroke-width="3"/>
<path d="M1355.5 609.8 L1359.5 613.8 L1363.5 616.7 L1367.5 618.6 L1371.5 618.6 L1375.5 619.8 L1379.5 622.2 L1383.5 624.6 L1387.5 623.4 L1391.5 622.0 L1395.5 621.2 L1399.5 620.7 L1403.5 620.3 L1407.5 621.5 L1411.5 621.9" stroke="#dc143c" stroke-width="3"/>
<path d="M3.5 515.2 L7.5 516.2 L11.5 531.0" stroke="#00ff7f" stroke-width="3"/>
<path d="M27.5 563.7 L31.5 538.4 L35.5 524.0 L39.5 520.0 L43.5 527.4 L47.5 523.4 L51.5 519.4 L55.5 511.1 L59.5 513.6 L63.5 516.7 L67.5 518.8 L71.5 519.4 L75.5 522.6 L79.5 529.2 L83.5 534.7 L87.5 540.2 L91.5 537.3 L95.5 534.4 L99.5 531.5 L103.5 528.2 L107.5 524.7 L111.5 520.7 L115.5 518.9 L119.5 526.8 L123.5 533.2 L127.5 541.1 L131.5 538.1 L135.5 538.8 L139.5 532.0 L143.5 525.6 L147.5 520.6 L151.5 516.0 L155.5 512.0 L159.5 508.8 L163.5 512.8 L167.5 545.2" stroke="#00ff7f" stroke-width="3"/>
<path d="M215.5 549.8 L219.5 524.9 L223.5 520.9 L227.5 520.9 L231.5 525.5 L235.5 533.5 L239.5 541.5 L243.5 546.3 L247.5 545.5 L251.5 542.3 L255.5 537.3 L259.5 534.7 L263.5 539.8 L267.5 543.2 L271.5 535.8 L275.5 525.9 L279.5 523.4 L283.5 520.6 L287.5 531.6" stroke="#00ff7f" stroke-width="3"/>
<path d="M375.5 551.8 L379.5 536.3 L383.5 537.9" stroke="#00ff7f" stroke-width="3"/>
<path d="M427.5 560.4 L431.5 538.4 L435.5 525.2 L439.5 530.5 L443.5 538.1 L447.5 544.6 L451.5 533.6 L455.5 521.6 L459.5 513.8 L463.5 512.8 L467.5 515.4 L471.5 521.0 L475.5 527.8 L479.5 529.0 L483.5 523.8 L487.5 515.7 L491.5 512.7 L495.5 522.6 L499.5 538.4" stroke="#00ff7f" stroke-width="3"/>
<path d="M643.5 551.5 L647.5 531.1 L651.5 511.2 L655.5 514.5 L659.5 516.8 L663.5 518.1 L667.5 511.7 L671.5 507.7 L675.5 506.4 L679.5 510.2 L683.5 516.8 L687.5 521.2 L691.5 524.0 L695.5 527.0 L699.5 530.7 L703.5 532.0 L707.5 525.4 L711.5 512.4 L715.5 507.0 L719.5 509.1 L723.5 517.9 L727.5 527.5 L731.5 537.1 L735.5 546.7" stroke="#00ff7f" stroke-width="3"/>
<path d="M751.5 551.0 L755.5 543.8 L759.5 538.4 L763.5 539.7 L767.5 537.2 L771.5 533.8 L775.5 531.8 L779.5 533.9 L783.5 540.6" stroke="#00ff7f" stroke-width="3"/>
<path d="M871.5 558.8 L875.5 537.0 L879.5 517.3 L883.5 510.2 L887.5 508.5 L891.5 510.1 L895.5 512.4 L899.5 515.7 L903.5 515.3 L907.5 512.6 L911.5 514.3 L915.5 516.9 L919.5 515.2 L923.5 512.3 L927.5 511.3 L931.5 517.3 L935.5 517.8 L939.5 514.7 L943.5 508.1 L947.5 506.5 L951.5 506.7 L955.5 507.0 L959.5 507.3 L963.5 508.0 L967.5 511.1 L971.5 518.9 L975.5 528.6 L979.5 536.0 L983.5 532.7 L987.5 533.6 L991.5 535.9 L995.5 538.9 L999.5 529.9 L1003.5 518.3 L1007.5 509.3 L1011.5 505.8 L1015.5 509.2 L1019.5 514.3 L1023.5 518.0 L1027.5 521.3 L1031.5 528.3 L1035.5 538.9 L1039.5 547.6" stroke="#00ff7f" stroke-width="3"/>
<path d="M1047.5 552.3 L1051.5 547.8 L1055.5 540.7 L1059.5 533.5 L1063.5 528.3 L1067.5 524.2 L1071.5 522.9 L1075.5 527.7 L1079.5 540.8" stroke="#00ff7f" stroke-width="3"/>
<path d="M1167.5 556.4 L1171.5 542.4 L1175.5 532.9 L1179.5 535.3 L1183.5 544.2" stroke="#00ff7f" stroke-width="3"/>
<path d="M1187.5 552.2 L1191.5 541.0 L1195.5 525.0" stroke="#00ff7f" stroke-width="3"/>
<path d="M299.5 608.1 L303.5 615.3 L307.5 615.2" stroke="#dc143c" stroke-width="3"/>
<path d="M535.5 605.2 L539.5 624.0 L543.5 640.5 L547.5 645.3 L551.5 640.5 L555.5 632.6 L559.5 626.6 L563.5 636.9 L567.5 645.9 L571.5 648.1 L575.5 645.5 L579.5 643.9 L583.5 642.7 L587.5 641.7 L591.5 640.9 L595.5 636.2 L599.5 626.2" stroke="#dc143c" stroke-width="3"/>
<path d="M795.5 600.0 L799.5 625.2 L803.5 641.2 L807.5 644.8 L811.5 626.6" stroke="#dc143c" stroke-width="3"/>
<path d="M1091.5 603.6 L1095.5 628.9 L1099.5 637.9 L1103.5 646.6 L1107.5 644.7 L1111.5 638.2 L1115.5 632.0 L1119.5 627.2 L1123.5 623.5 L1127.5 619.1" stroke="#dc143c" stroke-width="3"/>
<path d="M1203.5 602.6 L1207.5 626.7 L1211.5 628.3 L1215.5 625.8 L1219.5 618.7 L1223.5 614.2 L1227.5 616.9 L1231.5 624.8 L1235.5 631.7 L1239.5 631.7 L1243.5 616.9" stroke="#dc143c" stroke-width="3"/>
<path d="M1259.5 606.6 L1263.5 615.4 L1267.5 616.5 L1271.5 619.5 L1275.5 628.9 L1279.5 640.5 L1283.5 649.2 L1287.5 642.8 L1291.5 634.0 L1295.5 618.2" stroke="#dc143c" stroke-width="3"/>
<path d="M1335.5 606.3 L1339.5 625.0 L1343.5 638.5 L1347.5 645.0 L1351.5 646.0 L1355.5 636.2 L1359.5 636.0 L1363.5 630.7 L1367.5 625.7" stroke="#dc143c" stroke-width="3"/>
<path d="M1383.5 607.8 L1387.5 633.4 L1391.5 631.6 L1395.5 629.8 L1399.5 630.7 L1403.5 636.8 L1407.5 638.7 L1411.5 641.5" stroke="#dc143c" stroke-width="3"/>
</g>
</g>
<rect x="2" y="1" width="1499" height="1" fill="#ffffff" />
<rect x="2" y="494" width="1499" height="1" fill="#ffffff" />
<rect x="2" y="1" width="1" height="494" fill="#ffffff" />
<rect x="1500" y="1" width="1" height="494" fill="#ffffff" />
<rect x="2" y="496" width="1499" height="1" fill="#ffffff" />
<rect x="2" y="658" width="1499" height="1" fill="#ffffff" />
<rect x="2" y="496" width="1" height="163" fill="#ffffff" />
<rect x="1500" y="496" width="1" height="163" fill="#ffffff" />
<path d="M6 9h9l-4.5 5z" fill="#fff" shape-rendering="geometricPrecision"/>
<g shape-rendering="geometricPrecision" text-rendering="geometricPrecision">
<text x="21" y="16" font-size="12.8" fill="#fff" text-anchor="start" textLength="87" lengthAdjust="spacingAndGlyphs" >GERMANY40,H1</text>
<text x="7.1" y="512" font-size="12.8" fill="#fff" text-anchor="start" textLength="12.5" lengthAdjust="spacingAndGlyphs" >H1</text>
<text x="26.2" y="512" font-size="12.8" fill="#fff" text-anchor="start" textLength="52.0" lengthAdjust="spacingAndGlyphs" >stochastic</text>
<text x="84.6" y="512" font-size="12.8" fill="#fff" text-anchor="start" textLength="70.3" lengthAdjust="spacingAndGlyphs" >(21,3,21,13)</text>
<text x="160" y="512" font-size="12.8" fill="#fff" text-anchor="start" textLength="47.4" lengthAdjust="spacingAndGlyphs" >-26.6811</text>
<text x="214.2" y="512" font-size="12.8" fill="#fff" text-anchor="start" textLength="47.8" lengthAdjust="spacingAndGlyphs" >-38.9935</text>
<text x="267.9" y="512" font-size="12.8" fill="#fff" text-anchor="start" textLength="48.6" lengthAdjust="spacingAndGlyphs" >-38.9935</text>
<text x="321.4" y="512" font-size="12.8" fill="#fff" text-anchor="start" textLength="48.3" lengthAdjust="spacingAndGlyphs" >-26.6811</text>
<text x="375" y="512" font-size="12.8" fill="#fff" text-anchor="start" textLength="48.6" lengthAdjust="spacingAndGlyphs" >-26.6811</text>
<text x="429.4" y="512" font-size="12.8" fill="#fff" text-anchor="start" textLength="44.8" lengthAdjust="spacingAndGlyphs" >20.0000</text>
<text x="479.5" y="512" font-size="12.8" fill="#fff" text-anchor="start" textLength="48.8" lengthAdjust="spacingAndGlyphs" >-20.0000</text>
<rect x="1501" y="34" width="2" height="1" fill="#ffffff" shape-rendering="crispEdges"/>
<text x="1507.5" y="39" font-size="12.8" fill="#fff" text-anchor="start" textLength="52" lengthAdjust="spacingAndGlyphs" >19470.70</text>
<rect x="1501" y="83" width="2" height="1" fill="#ffffff" shape-rendering="crispEdges"/>
<text x="1507.5" y="88" font-size="12.8" fill="#fff" text-anchor="start" textLength="52" lengthAdjust="spacingAndGlyphs" >19353.10</text>
<rect x="1501" y="132" width="2" height="1" fill="#ffffff" shape-rendering="crispEdges"/>
<text x="1507.5" y="137" font-size="12.8" fill="#fff" text-anchor="start" textLength="52" lengthAdjust="spacingAndGlyphs" >19233.10</text>
<rect x="1501" y="181" width="2" height="1" fill="#ffffff" shape-rendering="crispEdges"/>
<text x="1507.5" y="186" font-size="12.8" fill="#fff" text-anchor="start" textLength="52" lengthAdjust="spacingAndGlyphs" >19113.10</text>
<rect x="1501" y="230" width="2" height="1" fill="#ffffff" shape-rendering="crispEdges"/>
<text x="1507.5" y="235" font-size="12.8" fill="#fff" text-anchor="start" textLength="52" lengthAdjust="spacingAndGlyphs" >18993.10</text>
<rect x="1501" y="279" width="2" height="1" fill="#ffffff" shape-rendering="crispEdges"/>
<text x="1507.5" y="284" font-size="12.8" fill="#fff" text-anchor="start" textLength="52" lengthAdjust="spacingAndGlyphs" >18873.10</text>
<rect x="1501" y="328" width="2" height="1" fill="#ffffff" shape-rendering="crispEdges"/>
<text x="1507.5" y="333" font-size="12.8" fill="#fff" text-anchor="start" textLength="52" lengthAdjust="spacingAndGlyphs" >18753.10</text>
<rect x="1501" y="377" width="2" height="1" fill="#ffffff" shape-rendering="crispEdges"/>
<text x="1507.5" y="382" font-size="12.8" fill="#fff" text-anchor="start" textLength="52" lengthAdjust="spacingAndGlyphs" >18633.10</text>
<rect x="1501" y="426" width="2" height="1" fill="#ffffff" shape-rendering="crispEdges"/>
<text x="1507.5" y="431" font-size="12.8" fill="#fff" text-anchor="start" textLength="52" lengthAdjust="spacingAndGlyphs" >18515.50</text>
<rect x="1501" y="475" width="2" height="1" fill="#ffffff" shape-rendering="crispEdges"/>
<text x="1507.5" y="480" font-size="12.8" fill="#fff" text-anchor="start" textLength="52" lengthAdjust="spacingAndGlyphs" >18395.50</text>
<rect x="1502" y="230" width="63" height="14" fill="#ffffff" shape-rendering="crispEdges"/>
<text x="1507.6" y="242" font-size="12.8" fill="#2a2530" text-anchor="start" textLength="51.5" lengthAdjust="spacingAndGlyphs" >18975.01</text>
<text x="1504" y="510" font-size="12.8" fill="#fff" text-anchor="start" textLength="46" lengthAdjust="spacingAndGlyphs" >52.6525</text>
<rect x="1501" y="580" width="1" height="1" fill="#ffffff" shape-rendering="crispEdges"/>
<text x="1504" y="585" font-size="12.8" fill="#fff" text-anchor="start" textLength="24.3" lengthAdjust="spacingAndGlyphs" >0.00</text>
<text x="1504" y="655" font-size="12.8" fill="#fff" text-anchor="start" textLength="42.7" lengthAdjust="spacingAndGlyphs" >-49.507</text>
<rect x="1501" y="498" width="1" height="1" fill="#ffffff" shape-rendering="crispEdges"/>
<rect x="1501" y="657" width="1" height="1" fill="#ffffff" shape-rendering="crispEdges"/>
<rect x="3" y="659" width="1" height="3" fill="#ffffff" shape-rendering="crispEdges"/>
<text x="3" y="674" font-size="12.8" fill="#fff" text-anchor="start" textLength="69" lengthAdjust="spacingAndGlyphs" >12 Sep 2024</text>
<rect x="99" y="659" width="1" height="3" fill="#ffffff" shape-rendering="crispEdges"/>
<text x="99" y="674" font-size="12.8" fill="#fff" text-anchor="start" textLength="73.5" lengthAdjust="spacingAndGlyphs" >13 Sep 14:00</text>
<rect x="195" y="659" width="1" height="3" fill="#ffffff" shape-rendering="crispEdges"/>
<text x="195" y="674" font-size="12.8" fill="#fff" text-anchor="start" textLength="73.5" lengthAdjust="spacingAndGlyphs" >16 Sep 16:00</text>
<rect x="291" y="659" width="1" height="3" fill="#ffffff" shape-rendering="crispEdges"/>
<text x="291" y="674" font-size="12.8" fill="#fff" text-anchor="start" textLength="73.5" lengthAdjust="spacingAndGlyphs" >17 Sep 17:00</text>
<rect x="387" y="659" width="1" height="3" fill="#ffffff" shape-rendering="crispEdges"/>
<text x="387" y="674" font-size="12.8" fill="#fff" text-anchor="start" textLength="73.5" lengthAdjust="spacingAndGlyphs" >18 Sep 18:00</text>
<rect x="483" y="659" width="1" height="3" fill="#ffffff" shape-rendering="crispEdges"/>
<text x="483" y="674" font-size="12.8" fill="#fff" text-anchor="start" textLength="73.5" lengthAdjust="spacingAndGlyphs" >19 Sep 19:00</text>
<rect x="579" y="659" width="1" height="3" fill="#ffffff" shape-rendering="crispEdges"/>
<text x="579" y="674" font-size="12.8" fill="#fff" text-anchor="start" textLength="73.5" lengthAdjust="spacingAndGlyphs" >20 Sep 20:00</text>
<rect x="675" y="659" width="1" height="3" fill="#ffffff" shape-rendering="crispEdges"/>
<text x="675" y="674" font-size="12.8" fill="#fff" text-anchor="start" textLength="73.5" lengthAdjust="spacingAndGlyphs" >23 Sep 22:00</text>
<rect x="771" y="659" width="1" height="3" fill="#ffffff" shape-rendering="crispEdges"/>
<text x="771" y="674" font-size="12.8" fill="#fff" text-anchor="start" textLength="73.5" lengthAdjust="spacingAndGlyphs" >24 Sep 23:00</text>
<rect x="867" y="659" width="1" height="3" fill="#ffffff" shape-rendering="crispEdges"/>
<text x="867" y="674" font-size="12.8" fill="#fff" text-anchor="start" textLength="73.5" lengthAdjust="spacingAndGlyphs" >26 Sep 01:00</text>
<rect x="963" y="659" width="1" height="3" fill="#ffffff" shape-rendering="crispEdges"/>
<text x="963" y="674" font-size="12.8" fill="#fff" text-anchor="start" textLength="73.5" lengthAdjust="spacingAndGlyphs" >27 Sep 02:00</text>
<rect x="1059" y="659" width="1" height="3" fill="#ffffff" shape-rendering="crispEdges"/>
<text x="1059" y="674" font-size="12.8" fill="#fff" text-anchor="start" textLength="73.5" lengthAdjust="spacingAndGlyphs" >30 Sep 04:00</text>
<rect x="1155" y="659" width="1" height="3" fill="#ffffff" shape-rendering="crispEdges"/>
<text x="1155" y="674" font-size="12.8" fill="#fff" text-anchor="start" textLength="66" lengthAdjust="spacingAndGlyphs" >1 Oct 05:00</text>
<rect x="1251" y="659" width="1" height="3" fill="#ffffff" shape-rendering="crispEdges"/>
<text x="1251" y="674" font-size="12.8" fill="#fff" text-anchor="start" textLength="66" lengthAdjust="spacingAndGlyphs" >2 Oct 06:00</text>
<rect x="1347" y="659" width="1" height="3" fill="#ffffff" shape-rendering="crispEdges"/>
<text x="1347" y="674" font-size="12.8" fill="#fff" text-anchor="start" textLength="66" lengthAdjust="spacingAndGlyphs" >3 Oct 07:00</text>
<rect x="1440.5" y="17.5" width="39" height="19" rx="1.5" fill="#0000ee" stroke="#fff" stroke-width="1"/>
<text x="1460" y="32" font-size="12.5" fill="#fff" text-anchor="middle" textLength="31" lengthAdjust="spacingAndGlyphs" >Show</text>
</g>
<rect x="1571" y="0" width="24" height="713" fill="#ececec"/>
<rect x="1571" y="0" width="2" height="713" fill="#ffffff"/>
<rect x="1573" y="0" width="1" height="336" fill="#6a6a6a"/>
<rect x="1574" y="0" width="11" height="333" fill="url(#sb)"/>
<rect x="1585" y="0" width="1" height="333" fill="#f6f6f6"/>
<rect x="1586" y="0" width="5" height="336" fill="#e6e6e6"/>
<rect x="1591" y="0" width="1" height="336" fill="#6a6a6a"/>
<rect x="1592" y="0" width="3" height="336" fill="#f0f0f0"/>
<rect x="1593" y="0" width="1" height="336" fill="#fafafa"/>
<rect x="1573" y="3" width="12" height="1" fill="#8a8a8a"/>
<rect x="1573" y="4" width="11" height="1" fill="#505050"/>
<rect x="1574" y="5" width="11" height="1" fill="#ececec"/>
<rect x="1574" y="63" width="9" height="21" fill="#bdbdbd"/>
<rect x="1574" y="333" width="17" height="2" fill="#eaeaea"/>
<rect x="1573" y="335" width="19" height="1" fill="#5a5a5a"/>
<rect x="1573" y="336" width="1" height="35" fill="#8c8c8c"/>
<rect x="1574" y="336" width="21" height="35" fill="url(#sb2)"/>
<rect x="1574" y="371" width="21" height="342" fill="#ececec"/>
<rect x="1573" y="371" width="1" height="328" fill="#6a6a6a"/>
<rect x="1574" y="371" width="12" height="328" fill="url(#sb)"/>
<rect x="1586" y="371" width="1" height="328" fill="#f6f6f6"/>
<rect x="1587" y="371" width="4" height="328" fill="#e6e6e6"/>
<rect x="1591" y="371" width="4" height="328" fill="#f2f2f2"/>
<rect x="1573" y="371" width="13" height="1" fill="#7a7a7a"/>
<rect x="1573" y="372" width="12" height="1" fill="#555555"/>
<rect x="1574" y="373" width="12" height="1" fill="#ececec"/>
<rect x="1575" y="446" width="9" height="21" fill="#bdbdbd"/>
<rect x="1573" y="698" width="22" height="1" fill="#f4f4f4"/>
<rect x="1573" y="699" width="22" height="4" fill="url(#sb2)"/>
<rect x="1573" y="703" width="22" height="1" fill="#808080"/>
<rect x="1573" y="704" width="22" height="9" fill="url(#sb2)"/>
<rect x="1574" y="704" width="15" height="1" fill="#ffffff"/>
<rect x="1588" y="704" width="1" height="9" fill="#ffffff"/>
<rect x="1573" y="699" width="1" height="14" fill="#8c8c8c"/>
<rect x="1578" y="319" width="3" height="3" fill="#b6b6b6"/>
<rect x="1574" y="323" width="3" height="3" fill="#b6b6b6"/>
<rect x="1578" y="323" width="3" height="3" fill="#b6b6b6"/>
<rect x="1574" y="327" width="3" height="3" fill="#b6b6b6"/>
<rect x="1578" y="327" width="3" height="3" fill="#b6b6b6"/>
<rect x="1580" y="686" width="3" height="3" fill="#a8a8a8"/>
<rect x="1576" y="690" width="3" height="3" fill="#a8a8a8"/>
<rect x="1580" y="690" width="3" height="3" fill="#a8a8a8"/>
<rect x="1576" y="694" width="3" height="3" fill="#a8a8a8"/>
<rect x="1580" y="694" width="3" height="3" fill="#a8a8a8"/>
<rect x="1573" y="694" width="2" height="3" fill="#8a8a8a"/>
<g shape-rendering="geometricPrecision" fill="none" stroke="#444" stroke-width="1.8">
<path d="M1573 12l5 6.2"/>
<path d="M1573.2 303.6l5 -6"/>
<path d="M1573 383.6l2.2 -4 4.8 5.8"/>
<path d="M1573 665.8l2.9 4.2 4.2 -5.6"/>
</g>
<rect x="0" y="682" width="1573" height="2" fill="#ffffff" />
<rect x="0" y="684" width="1573" height="1" fill="#000000" />
<rect x="0" y="685" width="1573" height="1" fill="#ffffff" />
<rect x="0" y="686" width="1572" height="23" fill="#f0f0f0" />
<rect x="0" y="709" width="1572" height="1" fill="#ffffff" />
<rect x="0" y="710" width="1572" height="3" fill="#f0f0f0" />
<rect x="1572" y="686" width="1" height="27" fill="#ffffff" />
<rect x="357" y="684" width="136" height="24" fill="#000000" />
<rect x="358" y="682" width="134" height="25" fill="#ffffff" />
<g shape-rendering="geometricPrecision" text-rendering="geometricPrecision">
<text x="19" y="702" font-size="15" fill="#6e6e6e" text-anchor="start" textLength="70" lengthAdjust="spacingAndGlyphs" >GBPJPY,M1</text>
<text x="119" y="702" font-size="15" fill="#6e6e6e" text-anchor="start" textLength="106" lengthAdjust="spacingAndGlyphs" >GERMANY40,H1</text>
<text x="255" y="702" font-size="15" fill="#6e6e6e" text-anchor="start" textLength="87.5" lengthAdjust="spacingAndGlyphs" >EURUSD,M15</text>
<text x="507" y="702" font-size="15" fill="#6e6e6e" text-anchor="start" textLength="88" lengthAdjust="spacingAndGlyphs" >EURUSD,M30</text>
<text x="623" y="702" font-size="15" fill="#6e6e6e" text-anchor="start" textLength="88" lengthAdjust="spacingAndGlyphs" >EURUSD,M15</text>
<text x="737.5" y="702" font-size="15" fill="#6e6e6e" text-anchor="start" textLength="117.0" lengthAdjust="spacingAndGlyphs" >GERMANY40,M15</text>
<text x="882" y="702" font-size="15" fill="#6e6e6e" text-anchor="start" textLength="77.5" lengthAdjust="spacingAndGlyphs" >EURCZK,M5</text>
<text x="987" y="702" font-size="15" fill="#6e6e6e" text-anchor="start" textLength="79" lengthAdjust="spacingAndGlyphs" >USDCHF,M1</text>
<text x="371" y="702" font-size="15" fill="#000" text-anchor="start" textLength="106" lengthAdjust="spacingAndGlyphs" >GERMANY40,H1</text>
</g>
<rect x="105" y="687" width="1" height="19" fill="#5a5a5a" />
<rect x="241" y="687" width="1" height="19" fill="#5a5a5a" />
<rect x="609" y="687" width="1" height="19" fill="#5a5a5a" />
<rect x="725" y="687" width="1" height="19" fill="#5a5a5a" />
<rect x="869" y="687" width="1" height="19" fill="#5a5a5a" />
<rect x="973" y="687" width="1" height="19" fill="#5a5a5a" />
<rect x="1081" y="687" width="1" height="19" fill="#5a5a5a" />
<path d="M1536.7 691v8.4l-4.6-4.2z" fill="#a0a0a0" shape-rendering="geometricPrecision"/>
<path d="M1556.8 691v8.4l4.6-4.2z" fill="#a0a0a0" shape-rendering="geometricPrecision"/>
<path d="M73.6 69.4L73.6 85.6L77.3 82.2L79.9 88L82.6 86.9L80 81.2L85 81.2Z" fill="#fff" stroke="#0a0612" stroke-width="0.9" stroke-linejoin="miter" shape-rendering="geometricPrecision"/>
</svg></body></html>
